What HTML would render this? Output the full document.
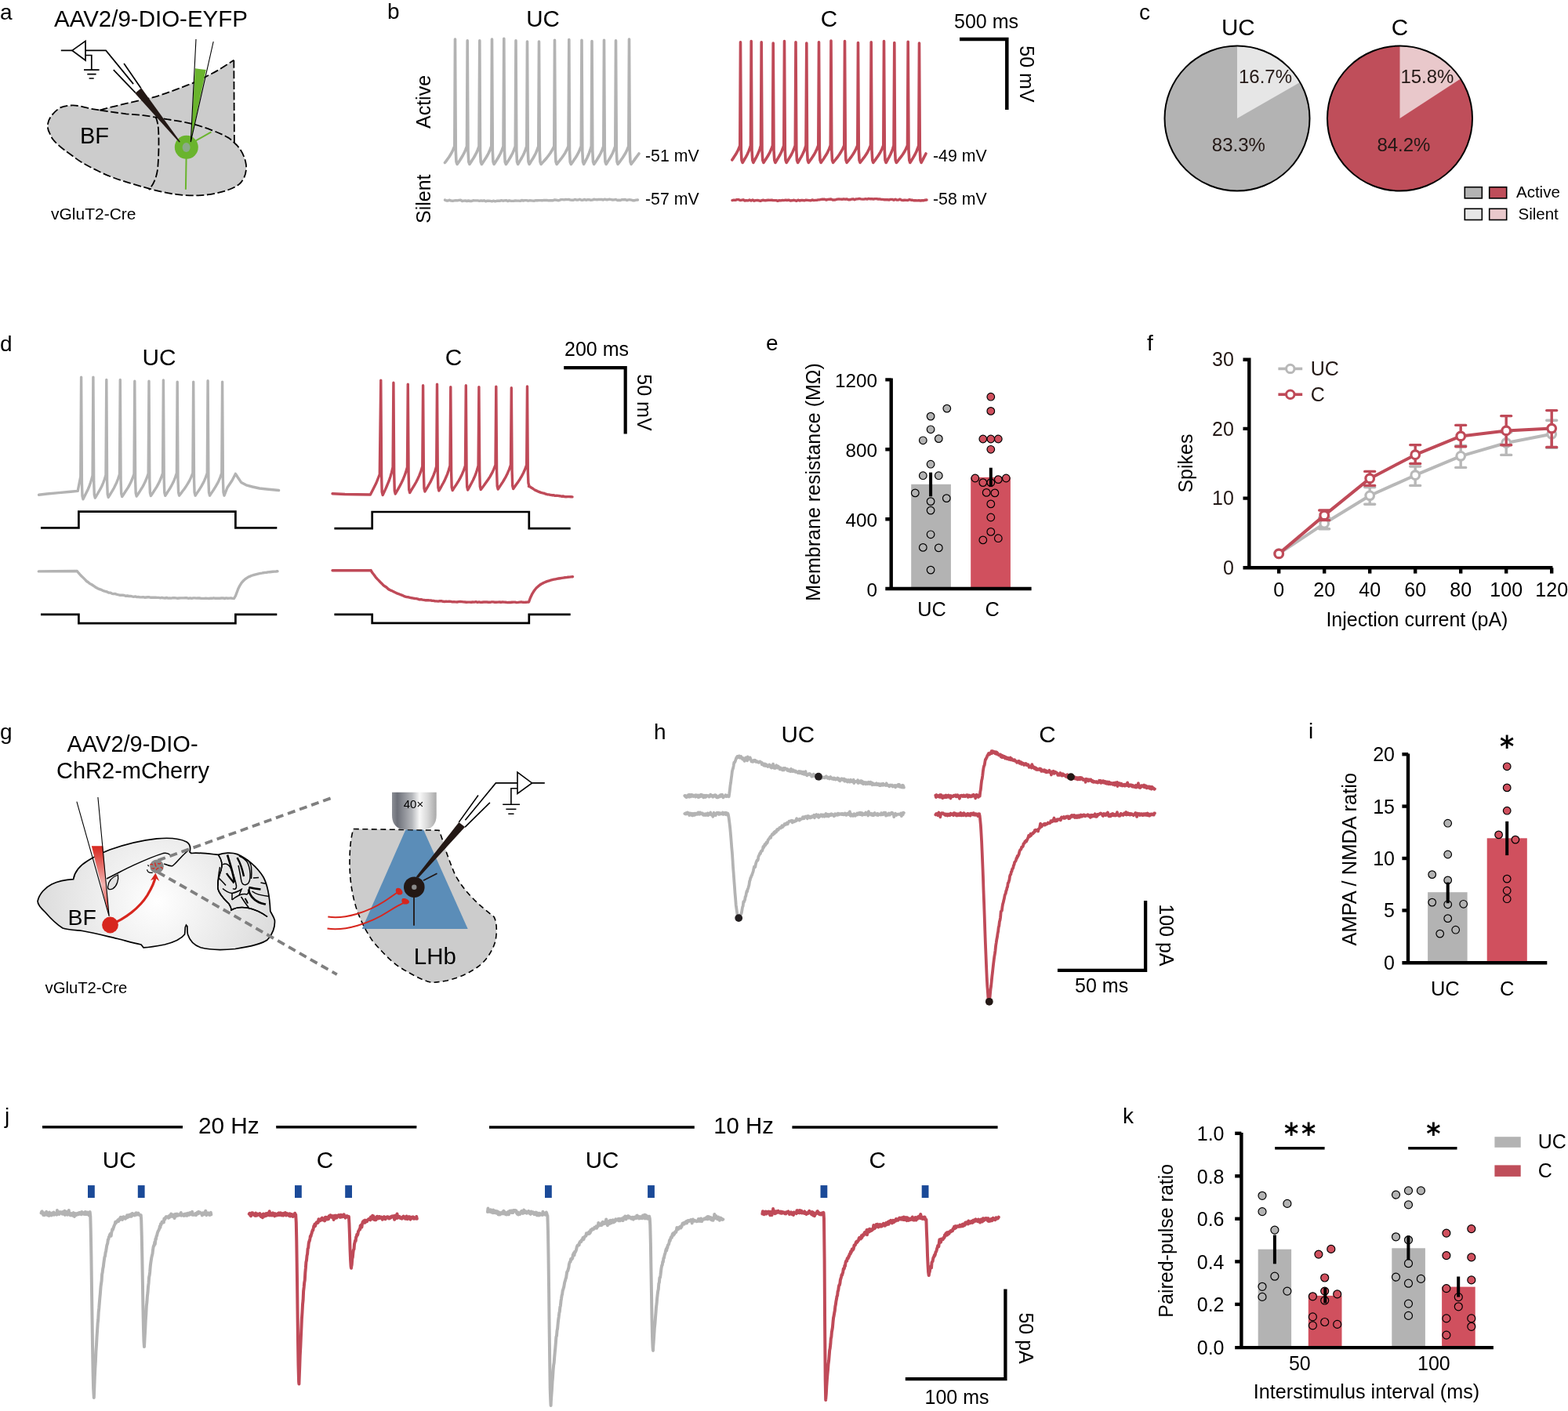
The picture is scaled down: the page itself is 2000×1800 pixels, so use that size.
<!DOCTYPE html>
<html><head><meta charset="utf-8"><style>
html,body{margin:0;padding:0;background:#fff;}
svg{display:block;}
text{font-family:"Liberation Sans", Arial, sans-serif;}
</style></head><body>
<svg xmlns="http://www.w3.org/2000/svg" width="2000" height="1800" viewBox="0 0 2000 1800">
<rect width="2000" height="1800" fill="#fff"/>
<text x="0" y="25" font-size="28">a</text>
<text x="494" y="24" font-size="28">b</text>
<text x="1453" y="25" font-size="28">c</text>
<text x="0" y="448" font-size="28">d</text>
<text x="977" y="447" font-size="28">e</text>
<text x="1463" y="447" font-size="28">f</text>
<text x="0" y="943" font-size="28">g</text>
<text x="834" y="943" font-size="28">h</text>
<text x="1669" y="942" font-size="28">i</text>
<text x="6" y="1433" font-size="28">j</text>
<text x="1432" y="1433" font-size="28">k</text>
<g id="pa">
<path d="M127.5 140.5 C150 134 175 129 194.4 124.4 C210 120 228 113 245.6 106.1 C255 102 262 98 270 94 C280 89 290 82 298.3 76.7 L298.9 182.2 C306 188 312 198 313.9 210 C315 221 311 230 304.4 235.6 C297 241 285 245 268.9 247.8 C255 250 240 250 224.4 247.8 C210 246.5 192 241 180 237.8 C160 232 140 226 125 218 C110 211 100 205 93 199.2 C85 193 78 189 73.4 184 C69 180 66 177 65 173.2 C62 168 60 164 61 158 C62 151 68 143 76.8 137.4 C82 135 88 134.4 93 134.4 C100 134.5 107 136.5 114.2 138.4 L127.5 140.5 Z" fill="#cccccc" stroke="none" stroke-width="0"/>
<path d="M127.5 140.5 C150 134 175 129 194.4 124.4 C210 120 228 113 245.6 106.1 C255 102 262 98 270 94 C280 89 290 82 298.3 76.7" fill="none" stroke="#000" stroke-width="1.8" stroke-dasharray="10 3.6"/>
<path d="M298.3 76.7 L298.9 182.2" fill="none" stroke="#000" stroke-width="1.8" stroke-dasharray="10 3.6"/>
<path d="M127.5 140.5 C140 142.5 150 144 161 145.3 C170 146 176 146.5 182.8 147.2 C195 149 205 150.5 213.3 152.2 C225 154 235 155.5 244.4 157.8 C253 160 261 162.5 268.9 165.6 C278 169 285 172 291.1 175.6 C294 177.5 296.5 179.5 298.9 182.2 C306 188 312 198 313.9 210 C315 221 311 230 304.4 235.6 C297 241 285 245 268.9 247.8 C255 250 240 250 224.4 247.8 C210 246.5 192 241 180 237.8 C160 232 140 226 125 218 C110 211 100 205 93 199.2 C85 193 78 189 73.4 184 C69 180 66 177 65 173.2 C62 168 60 164 61 158 C62 151 68 143 76.8 137.4 C82 135 88 134.4 93 134.4 C100 134.5 107 136.5 114.2 138.4 L127.5 140.5" fill="none" stroke="#000" stroke-width="1.8" stroke-dasharray="10 3.6"/>
<path d="M198.3 148.9 C201 154 201.8 160 202.2 168 C202.8 182 202.5 200 201.1 215.6 C199.5 228 195 236 190 242.2" fill="none" stroke="#000" stroke-width="1.8" stroke-dasharray="10 3.6"/>
<text x="102" y="182.8" font-size="29">BF</text>
<text x="65" y="279.5" font-size="21">vGluT2-Cre</text>
<text x="69" y="33.5" font-size="29.5">AAV2/9-DIO-EYFP</text>
<path d="M250 179.4 L269.4 168.3 M237.6 200 L236.9 241.7" fill="none" stroke="#6ab42d" stroke-width="2"/>
<circle cx="237.8" cy="187.8" r="15" fill="#6ab42d"/>
<ellipse cx="237.6" cy="188" rx="5" ry="6" fill="#8aaa88"/>
<path d="M77.8 64.4 H92.1 M109 64.4 H135.1 L170.1 107.1" fill="none" stroke="#000" stroke-width="1.7"/>
<path d="M92.1 64.4 L109 52.4 L109 77 Z" fill="none" stroke="#000" stroke-width="1.7" stroke-linejoin="miter"/>
<path d="M109 70.5 H116.8 V89.1 M107 89.1 H126.6 M111.3 94.6 H122.6 M113.6 100 H119.7" fill="none" stroke="#000" stroke-width="1.7"/>
<path d="M144.8 89.2 L172.8 118.4 M158.1 80.9 L179.8 112.6" fill="none" stroke="#000" stroke-width="1.7"/>
<path d="M172.2 118.9 L180.3 112.2 L230 181 L228.5 181.5 Z" fill="#231815" stroke="none" stroke-width="0"/>
<path d="M248.9 87.2 L262.8 89.1 L243.3 181.1 Z" fill="#6ab42d" stroke="none" stroke-width="0"/>
<path d="M250 50 L243.3 181.1 L272.2 53" fill="none" stroke="#000" stroke-width="1.1"/>
</g>
<g id="pb">
<path d="M567.5 207.5L569.3 205.1L571 202.7L572.8 200.2L574.5 197.5L576.3 194.4L578 190.8L579.8 186.5L580.5 50L581.3 192.5L582 206.5L583.1 209.5L584.9 206.9L586.7 204.2L588.4 201.5L590.2 198.5L592 195.2L593.8 191.2L595.5 186.5L596.2 51.8L597 192.5L597.8 206.5L598.9 209.5L600.6 206.9L602.3 204.2L604.1 201.5L605.8 198.5L607.6 195.2L609.3 191.2L611 186.5L611.8 51.8L612.5 192.5L613.2 206.5L614.4 209.5L616.1 206.9L617.9 204.2L619.7 201.5L621.5 198.5L623.2 195.2L625 191.2L626.8 186.5L627.5 50L628.3 192.5L629 206.5L630.1 209.5L631.8 206.9L633.5 204.2L635.2 201.5L636.9 198.5L638.6 195.2L640.3 191.2L642 186.5L642.8 49.2L643.5 192.5L644.2 206.5L645.4 209.5L647.1 206.9L648.8 204.2L650.5 201.5L652.2 198.5L653.9 195.2L655.6 191.2L657.3 186.5L658 51.8L658.8 192.5L659.5 206.5L660.6 209.5L662.2 206.9L663.8 204.2L665.4 201.5L667 198.5L668.6 195.2L670.2 191.2L671.8 186.5L672.5 53L673.3 192.5L674 206.5L675.1 209.5L676.8 206.9L678.4 204.2L680.1 201.5L681.8 198.5L683.5 195.2L685.1 191.2L686.8 186.5L687.5 53L688.3 192.5L689 206.5L690.1 209.5L692.5 206.9L694.9 204.2L697.3 201.5L699.6 198.5L702 195.2L704.4 191.2L706.8 186.5L707.5 51.2L708.3 192.5L709 206.5L710.1 209.5L712.2 206.9L714.4 204.2L716.5 201.5L718.6 198.5L720.8 195.2L722.9 191.2L725 186.5L725.8 50.5L726.5 192.5L727.2 206.5L728.4 209.5L730.2 206.9L732 204.2L733.9 201.5L735.8 198.5L737.6 195.2L739.4 191.2L741.3 186.5L742 51.2L742.8 192.5L743.5 206.5L744.6 209.5L746 206.9L747.4 204.2L748.8 201.5L750.1 198.5L751.5 195.2L752.9 191.2L754.3 186.5L755 52.5L755.8 192.5L756.5 206.5L757.6 209.5L759.3 206.9L761.1 204.2L762.8 201.5L764.6 198.5L766.3 195.2L768.1 191.2L769.8 186.5L770.5 51.2L771.3 192.5L772 206.5L773.1 209.5L774.8 206.9L776.4 204.2L778.1 201.5L779.8 198.5L781.5 195.2L783.1 191.2L784.8 186.5L785.5 51.8L786.3 192.5L787 206.5L788.1 209.5L790.1 206.9L792 204.2L794 201.5L795.9 198.5L797.9 195.2L799.8 191.2L801.8 186.5L802.5 50L803.3 192.5L804 206.5L805.1 209.5L807.1 206.8L809.1 204.1L811 201.4L813 198.7L815 196" fill="none" stroke="#b3b3b3" stroke-width="3.6" stroke-linejoin="round" stroke-linecap="round"/>
<path d="M933.8 204L935.2 201.9L936.6 199.7L938.1 197.5L939.5 195.1L940.9 192.5L942.4 189.3L943.8 185.5L944.5 53.8L945.3 191.5L946 204.5L947.1 207.5L948.6 205L950.1 202.4L951.6 199.8L953.1 197L954.6 193.8L956.1 190L957.5 185.5L958.2 52.5L959 191.5L959.8 204.5L960.9 207.5L962.2 205L963.6 202.4L965 199.8L966.4 197L967.8 193.8L969.2 190L970.5 185.5L971.2 53.8L972 191.5L972.8 204.5L973.9 207.5L975.5 205L977.2 202.4L978.9 199.8L980.5 197L982.2 193.8L983.9 190L985.5 185.5L986.2 55L987 191.5L987.8 204.5L988.9 207.5L990.4 205L992 202.4L993.5 199.8L995.1 197L996.7 193.8L998.2 190L999.8 185.5L1000.5 52.5L1001.3 191.5L1002 204.5L1003.1 207.5L1004.7 205L1006.3 202.4L1007.9 199.8L1009.5 197L1011.1 193.8L1012.7 190L1014.3 185.5L1015 53.8L1015.8 191.5L1016.5 204.5L1017.6 207.5L1019.1 205L1020.6 202.4L1022.1 199.8L1023.6 197L1025.1 193.8L1026.6 190L1028 185.5L1028.8 55L1029.5 191.5L1030.2 204.5L1031.3 207.5L1033.1 205L1034.9 202.4L1036.7 199.8L1038.5 197L1040.2 193.8L1042 190L1043.8 185.5L1044.5 53.8L1045.3 191.5L1046 204.5L1047.1 207.5L1048.8 205L1050.6 202.4L1052.3 199.8L1054.1 197L1055.8 193.8L1057.6 190L1059.3 185.5L1060 52L1060.8 191.5L1061.5 204.5L1062.6 207.5L1064.6 205L1066.7 202.4L1068.7 199.8L1070.7 197L1072.7 193.8L1074.8 190L1076.8 185.5L1077.5 52.5L1078.3 191.5L1079 204.5L1080.1 207.5L1082.1 205L1084 202.4L1086 199.8L1087.9 197L1089.9 193.8L1091.8 190L1093.8 185.5L1094.5 54.5L1095.3 191.5L1096 204.5L1097.1 207.5L1099 205L1100.9 202.4L1102.9 199.8L1104.8 197L1106.7 193.8L1108.6 190L1110.5 185.5L1111.2 53.8L1112 191.5L1112.8 204.5L1113.8 207.5L1115.7 205L1117.5 202.4L1119.4 199.8L1121.2 197L1123.1 193.8L1125 190L1126.8 185.5L1127.5 52.5L1128.3 191.5L1129 204.5L1130.1 207.5L1131.5 205L1132.9 202.4L1134.4 199.8L1135.8 197L1137.2 193.8L1138.6 190L1140 185.5L1140.8 54.5L1141.5 191.5L1142.2 204.5L1143.3 207.5L1145.4 205L1147.4 202.4L1149.4 199.8L1151.5 197L1153.5 193.8L1155.5 190L1157.5 185.5L1158.2 53.2L1159 191.5L1159.8 204.5L1160.8 207.5L1162.4 205L1164 202.4L1165.5 199.8L1167.1 197L1168.7 193.8L1170.2 190L1171.8 185.5L1172.5 55L1173.3 191.5L1174 204.5L1175.1 207.5L1176.3 205.2L1177.5 202.9L1178.6 200.6L1179.8 198.3L1181 196" fill="none" stroke="#bf4a58" stroke-width="3.6" stroke-linejoin="round" stroke-linecap="round"/>
<path d="M567.5 255.1L569.5 256L571.5 256L573.5 255.2L575.5 256.1L577.5 256.3L579.5 255.9L581.5 255.6L583.5 255.9L585.5 255.4L587.5 255.3L589.5 256.5L591.5 256.1L593.5 256L595.5 256.5L597.5 256L599.5 256.5L601.5 256.5L603.5 255.8L605.5 255.9L607.5 255.9L609.5 255.9L611.5 256.3L613.5 255.9L615.5 256.2L617.5 255.8L619.5 256.8L621.5 256.1L623.5 256.2L625.5 256.4L627.5 256.8L629.5 256.2L631.5 256.8L633.5 256.3L635.5 256.3L637.5 256.3L639.5 255.7L641.5 256.2L643.5 255.9L645.5 255.6L647.5 256.6L649.5 255.8L651.5 256.2L653.5 256.4L655.5 256.2L657.5 255.9L659.5 256.1L661.5 256.1L663.5 256.4L665.5 255.5L667.5 256L669.5 255.6L671.5 255.6L673.5 256.2L675.5 255.8L677.5 255.9L679.5 256.1L681.5 256.2L683.5 255.6L685.5 255.8L687.5 255.6L689.5 255.6L691.5 255.8L693.5 255.4L695.5 255.5L697.5 255.4L699.5 255.9L701.5 255.6L703.5 255.7L705.5 255.8L707.5 254.9L709.5 255.2L711.5 255.7L713.5 255.5L715.5 254.6L717.5 254.6L719.5 254.9L721.5 254.5L723.5 254.6L725.5 254.4L727.5 255.1L729.5 255.2L731.5 255.3L733.5 254.4L735.5 255.1L737.5 255L739.5 254.3L741.5 255.2L743.5 255.3L745.5 254.4L747.5 255.3L749.5 254.6L751.5 254.7L753.5 255.3L755.5 255.1L757.5 254.3L759.5 254.6L761.5 254.7L763.5 254.5L765.5 254.4L767.5 254.5L769.5 255L771.5 254.2L773.5 254.8L775.5 254.7L777.5 254.2L779.5 254.6L781.5 255L783.5 254.9L785.5 254.4L787.5 255.5L789.5 255.3L791.5 255.6L793.5 254.6L795.5 254.8L797.5 254.5L799.5 255.5L801.5 254.9L803.5 254.8L805.5 255.2L807.5 255.8L809.5 255.7L811.5 255.1L813.5 255" fill="none" stroke="#b3b3b3" stroke-width="3.4" stroke-linejoin="round" stroke-linecap="round"/>
<path d="M934 255.6L936 255.2L938 255.4L940 254.6L942 254.6L944 255.5L946 255.2L948 254.8L950 256L952 255.6L954 255.9L956 254.9L958 256.1L960 255L962 256.2L964 255.6L966 255.5L968 255.8L970 256.4L972 255.5L974 255.3L976 255.9L978 255.5L980 255.3L982 255.4L984 255.3L986 255.5L988 255.6L990 255.6L992 256.3L994 255.6L996 255.9L998 255.4L1000 255.6L1002 255.2L1004 255.5L1006 255.1L1008 256.1L1010 255.8L1012 255.3L1014 255.6L1016 256.3L1018 255.1L1020 256L1022 255.4L1024 255.5L1026 255.9L1028 255.2L1030 255.4L1032 255.6L1034 255.9L1036 255L1038 255.6L1040 255.4L1042 255.2L1044 254.9L1046 254.7L1048 254.3L1050 254.3L1052 254.2L1054 255.1L1056 254.4L1058 254.2L1060 254L1062 255L1064 255L1066 254.7L1068 254.1L1070 254L1072 254.1L1074 254.3L1076 253.8L1078 254.2L1080 253.9L1082 254.8L1084 254.8L1086 254.2L1088 253.8L1090 254.8L1092 253.9L1094 253.9L1096 253.4L1098 253.9L1100 254.1L1102 254.1L1104 253.7L1106 254.1L1108 253.4L1110 253.8L1112 253.6L1114 254L1116 253.6L1118 253.6L1120 254L1122 253.9L1124 254.4L1126 254.4L1128 254.7L1130 254.7L1132 254.8L1134 255L1136 254.4L1138 254.4L1140 255.3L1142 254.2L1144 255.1L1146 255L1148 254.2L1150 255.4L1152 255.5L1154 255.2L1156 255.4L1158 255.5L1160 254.7L1162 255.2L1164 255.3L1166 255.8L1168 255.8L1170 255.9L1172 255.6L1174 256L1176 255.8L1178 255.8L1180 255.2L1182 255" fill="none" stroke="#bf4a58" stroke-width="3.4" stroke-linejoin="round" stroke-linecap="round"/>
<text x="692.5" y="33.8" font-size="29.6" text-anchor="middle">UC</text>
<text x="1057.4" y="33.8" font-size="29.6" text-anchor="middle">C</text>
<text x="1217" y="36" font-size="25">500 ms</text>
<path d="M1224 50 H1284.3 V140" fill="none" stroke="#000" stroke-width="4.5" stroke-linejoin="miter"/>
<text x="1301.3" y="58.3" font-size="25" transform="rotate(90 1301.3 58.3)">50 mV</text>
<text x="549" y="164" font-size="25" transform="rotate(-90 549 164)">Active</text>
<text x="549" y="285" font-size="25" transform="rotate(-90 549 285)">Silent</text>
<text x="823" y="205.8" font-size="21.3">-51 mV</text>
<text x="823" y="261" font-size="21.3">-57 mV</text>
<text x="1190" y="205.8" font-size="21.3">-49 mV</text>
<text x="1190" y="261" font-size="21.3">-58 mV</text>
</g>
<g id="pc">
<circle cx="1578" cy="151" r="92.5" fill="#b3b3b3"/>
<path d="M1578 151 L1578 58.5 A92.5 92.5 0 0 1 1658.2 104.9 Z" fill="#e6e6e6" stroke="none" stroke-width="0"/>
<circle cx="1578" cy="151" r="92.5" fill="none" stroke="#000" stroke-width="2"/>
<circle cx="1785.5" cy="151" r="92.5" fill="#bf4e5a"/>
<path d="M1785.5 151 L1785.5 58.5 A92.5 92.5 0 0 1 1863 100.5 Z" fill="#e9c8cb" stroke="none" stroke-width="0"/>
<circle cx="1785.5" cy="151" r="92.5" fill="none" stroke="#000" stroke-width="2"/>
<text x="1579.3" y="44.6" font-size="29.6" text-anchor="middle">UC</text>
<text x="1785.5" y="44.6" font-size="29.6" text-anchor="middle">C</text>
<text x="1580" y="106.4" font-size="24" fill="#231815">16.7%</text>
<text x="1545.8" y="192.6" font-size="24" fill="#231815">83.3%</text>
<text x="1786.4" y="106.4" font-size="24" fill="#231815">15.8%</text>
<text x="1756.4" y="192.6" font-size="24" fill="#231815">84.2%</text>
<rect x="1868.3" y="238.7" width="22" height="14.2" fill="#b3b3b3" stroke="#000" stroke-width="1.6"/>
<rect x="1899.7" y="238.7" width="22" height="14.2" fill="#bf4e5a" stroke="#000" stroke-width="1.6"/>
<rect x="1868.3" y="266.3" width="22" height="14.2" fill="#e6e6e6" stroke="#000" stroke-width="1.6"/>
<rect x="1899.7" y="266.3" width="22" height="14.2" fill="#e9c8cb" stroke="#000" stroke-width="1.6"/>
<text x="1934" y="252" font-size="20.5">Active</text>
<text x="1936.5" y="279.5" font-size="20.5">Silent</text>
</g>
<g id="pd">
<path d="M49.6 631.2L60 630L75 628.6L90 627.3L99.2 626.4L101.2 616L102.8 608L103.6 481.1L104.4 616L105 632.8L106 636.8L107.5 633.8L109 630.8L110.5 627.8L112.1 624.5L113.6 621L115.1 616.9L116.6 612.1L118.1 606.4L118.9 481.1L119.7 614.4L120.3 631.2L121.3 635.2L123 632.4L124.7 629.5L126.4 626.5L128.2 623.4L129.9 620L131.6 616.1L133.3 611.5L135 606L135.8 484.4L136.6 614L137.2 630.4L138.2 634.4L140 631.5L141.8 628.6L143.6 625.7L145.4 622.5L147.1 619.1L148.9 615.2L150.7 610.5L152.5 605L153.3 484.4L154.1 613L154.7 629.5L155.7 633.5L157.6 630.7L159.5 627.8L161.4 624.9L163.4 621.8L165.3 618.4L167.2 614.5L169.1 610L171 604.5L171.8 486.2L172.6 612.5L173.2 629L174.2 633L176.1 630.2L178 627.3L179.8 624.4L181.7 621.3L183.6 617.9L185.4 614L187.3 609.5L189.2 604L190 486.2L190.8 612L191.4 628.5L192.4 632.5L194.3 629.7L196.2 626.8L198.1 623.9L200 620.8L201.9 617.4L203.8 613.5L205.7 609L207.6 603.5L208.4 484.9L209.2 611.5L209.8 628.3L210.8 632.3L212.6 629.5L214.4 626.7L216.3 623.8L218.1 620.7L219.9 617.3L221.8 613.4L223.6 608.9L225.4 603.5L226.2 487.1L227 611.5L227.6 628.2L228.6 632.2L230.8 629.4L232.9 626.6L235.1 623.7L237.2 620.6L239.4 617.2L241.6 613.4L243.7 608.9L245.9 603.5L246.7 487.1L247.5 611.5L248.1 628.2L249.1 632.2L251 629.4L252.9 626.6L254.8 623.7L256.7 620.6L258.6 617.2L260.5 613.4L262.4 608.9L264.3 603.5L265.1 485.8L265.9 611.5L266.5 628.2L267.5 632.2L269.4 629.4L271.3 626.6L273.2 623.7L275.1 620.6L277.1 617.2L279 613.4L280.9 608.9L282.8 603.5L283.6 487.1L284.4 611.5L285 628.2L286 632.2L290 622L296 613L300.4 604.4L303 608.5L307.8 615.6L314 618.8L322 621L331 623L340 624L355.6 625.5" fill="none" stroke="#b3b3b3" stroke-width="3.4" stroke-linejoin="round" stroke-linecap="round"/>
<path d="M424 629.8L440 630.5L455 630.8L472.4 631L476 624L480 616L484.3 605L485.8 485.1L486.6 606L487.2 627.6L488.2 631.6L489.8 628.1L491.4 624.6L493 621L494.6 617.2L496.3 613L497.9 608.3L499.5 602.7L501.1 596L501.9 488.3L502.7 604L503.3 626L504.3 630L506.2 626.7L508.1 623.3L510 619.9L511.9 616.3L513.8 612.3L515.7 607.7L517.6 602.4L519.5 596L520.3 490.1L521.1 604L521.7 624.5L522.7 628.5L524.7 625.2L526.7 621.9L528.7 618.6L530.8 615L532.8 611L534.8 606.6L536.8 601.3L538.8 595L539.6 491.8L540.4 603L541 623L542 627L543.8 623.9L545.7 620.7L547.5 617.5L549.4 614.1L551.2 610.3L553 606.1L554.9 601L556.7 595L557.5 490.1L558.3 603L558.9 622L559.9 626L561.7 622.9L563.4 619.7L565.2 616.5L567 613.1L568.7 609.3L570.5 605.1L572.2 600L574 594L574.8 493.6L575.6 602L576.2 621.5L577.2 625.5L579.2 622.4L581.3 619.3L583.3 616.1L585.3 612.8L587.4 609.1L589.4 604.9L591.5 599.9L593.5 594L594.3 491.8L595.1 602L595.7 621L596.7 625L598.4 622L600 618.9L601.7 615.8L603.4 612.5L605.1 608.8L606.8 604.7L608.4 599.8L610.1 594L610.9 493.6L611.7 602L612.3 620.5L613.3 624.5L615.6 621.4L618 618.3L620.3 615.1L622.6 611.8L625 608.1L627.3 603.9L629.7 598.9L632 593L632.8 493.1L633.6 601L634.2 620L635.2 624L637.2 621L639.3 617.9L641.3 614.8L643.3 611.5L645.4 607.8L647.4 603.7L649.5 598.8L651.5 593L652.3 494.7L653.1 601L653.7 619.5L654.7 623.5L656.8 620.5L658.9 617.5L661.1 614.4L663.2 611.2L665.3 607.6L667.5 603.5L669.6 598.8L671.7 593L672.5 492.9L673.3 601L673.9 616L674.9 620L674.5 620.5L676 620.8L678 622.3L680 623.5L682 625L684 625.9L686 626.8L688 627.6L690 628.4L692 628.9L694 629.2L696 630.2L698 630.7L700 630.9L702 631.3L704 631.7L706 631.7L708 632.4L710 632.3L712 632.4L714 632.7L716 633.2L718 633L720 633.5L722 633.7L724 633.6L726 633.6L728 633.7L730 633.9" fill="none" stroke="#bf4a58" stroke-width="3.4" stroke-linejoin="round" stroke-linecap="round"/>
<path d="M49.3 728.9L70 728.8L97.8 728.5L98.5 728.7L100.5 731.2L102.5 733.5L104.5 735.4L106.5 737.4L108.5 739.4L110.5 741.5L112.5 742.8L114.5 744.5L116.5 745.5L118.5 746.8L120.5 748.1L122.5 749.5L124.5 750.6L126.5 751.5L128.5 752.1L130.5 753.1L132.5 753.8L134.5 754.5L136.5 754.9L138.5 756L140.5 756.1L142.5 757.1L144.5 757.6L146.5 757.4L148.5 758.1L150.5 758.7L152.5 759.2L154.5 759.1L156.5 759.3L158.5 759.5L160.5 760.3L162.5 760L164.5 760.5L166.5 760.4L168.5 760.9L170.5 761.3L172.5 760.9L174.5 761.6L176.5 761.5L178.5 761.9L180.5 761.9L182.5 761.6L184.5 762.2L186.5 762L188.5 761.8L190.5 761.8L192.5 762.3L194.5 762.3L196.5 762.3L198.5 762.2L200.5 762.4L202.5 762.4L204.5 762.8L206.5 762.3L208.5 762.9L210.5 763L212.5 762.5L214.5 763.1L216.5 763L218.5 763.1L220.5 762.7L222.5 762.8L224.5 762.9L226.5 763.3L228.5 763L230.5 762.9L232.5 762.9L234.5 762.9L236.5 762.7L238.5 762.8L240.5 763.3L242.5 762.9L244.5 763.4L246.5 762.9L248.5 762.9L250.5 763.1L252.5 762.9L254.5 763L256.5 763.4L258.5 763.4L260.5 763.4L262.5 763.2L264.5 763.4L266.5 763.5L268.5 763.2L270.5 763.3L272.5 762.8L274.5 763.3L276.5 763.1L278.5 763.3L280.5 763.3L282.5 763L284.5 762.9L286.5 763.5L288.5 762.9L290.5 763.2L292.5 763.1L294.5 763L296.5 763.4L298.5 763.5L300.5 760L302 756L304 750.7L306 746.8L308 743.7L310 741.3L312 739.4L314 737.9L316 736.6L318 735.6L320 734.7L322 734L324 733.3L326 732.8L328 732.3L330 731.8L332 731.4L334 731.1L336 730.7L338 730.4L340 730.2L342 729.9L344 729.7L346 729.5L348 729.3L350 729.1L352 729L354 728.8" fill="none" stroke="#b3b3b3" stroke-width="3.4" stroke-linejoin="round" stroke-linecap="round"/>
<path d="M424 727.7L450 727.7L472.4 727.7L473 727.5L475 730.8L477 733.3L479 736.1L481 738.4L483 740.4L485 742.5L487 744.4L489 746.6L491 748L493 749.3L495 751.2L497 752.5L499 753.3L501 754.2L503 755.3L505 756.2L507 757.2L509 757.8L511 758.7L513 759.4L515 760.3L517 761.1L519 761.6L521 761.8L523 762.3L525 762.8L527 763.1L529 763.5L531 763.6L533 764.1L535 764.9L537 764.6L539 765.1L541 765.4L543 765.8L545 765.6L547 765.8L549 765.9L551 766.2L553 766.4L555 766.9L557 766.9L559 767.1L561 766.6L563 766.7L565 767.3L567 767.5L569 767.3L571 767.4L573 767.1L575 767.4L577 767.9L579 767.8L581 767.9L583 768L585 767.6L587 767.5L589 767.6L591 767.9L593 768L595 768.2L597 768.1L599 768.1L601 768.2L603 768L605 768.1L607 767.7L609 768.3L611 767.9L613 768.4L615 768.2L617 768L619 767.9L621 768L623 768.3L625 768.3L627 767.9L629 767.9L631 768.2L633 768.3L635 768.1L637 768L639 768.3L641 767.9L643 768.1L645 768.2L647 768.6L649 768.4L651 768.5L653 768.2L655 768.1L657 768.1L659 768.6L661 768.4L663 768.1L665 767.9L667 768.3L669 768.4L671 768.2L673 768.1L674.5 768L676.5 762.5L678.5 758.2L680.5 754.8L682.5 752L684.5 749.7L686.5 747.9L688.5 746.3L690.5 745L692.5 743.9L694.5 743L696.5 742.2L698.5 741.4L700.5 740.8L702.5 740.2L704.5 739.7L706.5 739.2L708.5 738.8L710.5 738.4L712.5 738L714.5 737.7L716.5 737.4L718.5 737.1L720.5 736.8L722.5 736.6L724.5 736.3L726.5 736.1L728.5 735.9L730.5 735.7" fill="none" stroke="#bf4a58" stroke-width="3.4" stroke-linejoin="round" stroke-linecap="round"/>
<path d="M52 673.3 H100.4 V652.7 H300.4 V673.3 H353.3" fill="none" stroke="#000" stroke-width="2.7" stroke-linejoin="miter"/>
<path d="M52 783.8 H100.4 V795.1 H300.4 V783.8 H353.3" fill="none" stroke="#000" stroke-width="2.7" stroke-linejoin="miter"/>
<path d="M426.4 674.1 H474.7 V653 H674.8 V674.1 H727.7" fill="none" stroke="#000" stroke-width="2.7" stroke-linejoin="miter"/>
<path d="M426.4 783.8 H474.7 V794.9 H674.8 V783.8 H727.7" fill="none" stroke="#000" stroke-width="2.7" stroke-linejoin="miter"/>
<text x="203" y="465.8" font-size="29.8" text-anchor="middle">UC</text>
<text x="578.5" y="465.8" font-size="29.8" text-anchor="middle">C</text>
<text x="720" y="454" font-size="25">200 ms</text>
<path d="M719.2 469.2 H797.7 V553.6" fill="none" stroke="#000" stroke-width="4.2" stroke-linejoin="miter"/>
<text x="813.3" y="477.3" font-size="25" transform="rotate(90 813.3 477.3)">50 mV</text>
</g>
<g id="pe">
<rect x="1162.2" y="617.8" width="50.7" height="132.9" fill="#b3b3b3"/>
<rect x="1238.2" y="608.9" width="50.7" height="141.8" fill="#d0505e"/>
<circle cx="1207.8" cy="521.1" r="4.8" fill="#b3b3b3" stroke="#000" stroke-width="1.2"/>
<circle cx="1187.1" cy="531.1" r="4.8" fill="#b3b3b3" stroke="#000" stroke-width="1.2"/>
<circle cx="1187.1" cy="547.8" r="4.8" fill="#b3b3b3" stroke="#000" stroke-width="1.2"/>
<circle cx="1177.3" cy="561.8" r="4.8" fill="#b3b3b3" stroke="#000" stroke-width="1.2"/>
<circle cx="1197.3" cy="559.6" r="4.8" fill="#b3b3b3" stroke="#000" stroke-width="1.2"/>
<circle cx="1187.1" cy="592.2" r="4.8" fill="#b3b3b3" stroke="#000" stroke-width="1.2"/>
<circle cx="1177.3" cy="606.7" r="4.8" fill="#b3b3b3" stroke="#000" stroke-width="1.2"/>
<circle cx="1197.3" cy="606.7" r="4.8" fill="#b3b3b3" stroke="#000" stroke-width="1.2"/>
<circle cx="1167.3" cy="628.9" r="4.8" fill="#b3b3b3" stroke="#000" stroke-width="1.2"/>
<circle cx="1207.3" cy="635.6" r="4.8" fill="#b3b3b3" stroke="#000" stroke-width="1.2"/>
<circle cx="1187.1" cy="639.6" r="4.8" fill="#b3b3b3" stroke="#000" stroke-width="1.2"/>
<circle cx="1187.1" cy="651.1" r="4.8" fill="#b3b3b3" stroke="#000" stroke-width="1.2"/>
<circle cx="1187.1" cy="681.8" r="4.8" fill="#b3b3b3" stroke="#000" stroke-width="1.2"/>
<circle cx="1177.3" cy="698.4" r="4.8" fill="#b3b3b3" stroke="#000" stroke-width="1.2"/>
<circle cx="1197.3" cy="698.9" r="4.8" fill="#b3b3b3" stroke="#000" stroke-width="1.2"/>
<circle cx="1187.1" cy="727.1" r="4.8" fill="#b3b3b3" stroke="#000" stroke-width="1.2"/>
<circle cx="1263.8" cy="506.2" r="4.8" fill="#d0505e" stroke="#000" stroke-width="1.2"/>
<circle cx="1263.8" cy="524.4" r="4.8" fill="#d0505e" stroke="#000" stroke-width="1.2"/>
<circle cx="1253.8" cy="560" r="4.8" fill="#d0505e" stroke="#000" stroke-width="1.2"/>
<circle cx="1263.8" cy="560" r="4.8" fill="#d0505e" stroke="#000" stroke-width="1.2"/>
<circle cx="1273.3" cy="560" r="4.8" fill="#d0505e" stroke="#000" stroke-width="1.2"/>
<circle cx="1263.8" cy="573.3" r="4.8" fill="#d0505e" stroke="#000" stroke-width="1.2"/>
<circle cx="1243.8" cy="610" r="4.8" fill="#d0505e" stroke="#000" stroke-width="1.2"/>
<circle cx="1253.8" cy="615.6" r="4.8" fill="#d0505e" stroke="#000" stroke-width="1.2"/>
<circle cx="1263.8" cy="615.6" r="4.8" fill="#d0505e" stroke="#000" stroke-width="1.2"/>
<circle cx="1273.3" cy="611.6" r="4.8" fill="#d0505e" stroke="#000" stroke-width="1.2"/>
<circle cx="1283.3" cy="610" r="4.8" fill="#d0505e" stroke="#000" stroke-width="1.2"/>
<circle cx="1258.2" cy="628.4" r="4.8" fill="#d0505e" stroke="#000" stroke-width="1.2"/>
<circle cx="1268.9" cy="628.9" r="4.8" fill="#d0505e" stroke="#000" stroke-width="1.2"/>
<circle cx="1263.8" cy="642.9" r="4.8" fill="#d0505e" stroke="#000" stroke-width="1.2"/>
<circle cx="1263.8" cy="660" r="4.8" fill="#d0505e" stroke="#000" stroke-width="1.2"/>
<circle cx="1263.8" cy="678.4" r="4.8" fill="#d0505e" stroke="#000" stroke-width="1.2"/>
<circle cx="1253.8" cy="688.9" r="4.8" fill="#d0505e" stroke="#000" stroke-width="1.2"/>
<circle cx="1273.3" cy="686.7" r="4.8" fill="#d0505e" stroke="#000" stroke-width="1.2"/>
<line x1="1187.1" y1="602.7" x2="1187.1" y2="633.3" stroke="#000" stroke-width="4"/>
<line x1="1263.8" y1="596.7" x2="1263.8" y2="621.1" stroke="#000" stroke-width="4"/>
<path d="M1136.7 482.5 V753 M1129.3 751 H1315.6 M1129.3 484.4 H1136.7 M1129.3 573.3 H1136.7 M1129.3 662.2 H1136.7" fill="none" stroke="#000" stroke-width="4.4"/>
<text x="1119" y="494.4" font-size="24.3" text-anchor="end">1200</text>
<text x="1119" y="583.3" font-size="24.3" text-anchor="end">800</text>
<text x="1119" y="672.2" font-size="24.3" text-anchor="end">400</text>
<text x="1119" y="760.7" font-size="24.3" text-anchor="end">0</text>
<text x="1046.5" y="766.7" font-size="25" transform="rotate(-90 1046.5 766.7)">Membrane resistance (MΩ)</text>
<text x="1188.6" y="786.2" font-size="25.3" text-anchor="middle">UC</text>
<text x="1265.6" y="786.2" font-size="25.3" text-anchor="middle">C</text>
</g>
<g id="pf">
<path d="M1593.3 456.5 V726.4 M1585.5 724.3 H1980.4 M1585.5 458.7 H1593.3 M1585.5 546.9 H1593.3 M1585.5 635.6 H1593.3" fill="none" stroke="#000" stroke-width="4.4"/>
<line x1="1631.2" y1="724.3" x2="1631.2" y2="731.6" stroke="#000" stroke-width="4.4"/>
<text x="1631.2" y="761.2" font-size="25" text-anchor="middle">0</text>
<line x1="1689.2" y1="724.3" x2="1689.2" y2="731.6" stroke="#000" stroke-width="4.4"/>
<text x="1689.2" y="761.2" font-size="25" text-anchor="middle">20</text>
<line x1="1747.2" y1="724.3" x2="1747.2" y2="731.6" stroke="#000" stroke-width="4.4"/>
<text x="1747.2" y="761.2" font-size="25" text-anchor="middle">40</text>
<line x1="1805.2" y1="724.3" x2="1805.2" y2="731.6" stroke="#000" stroke-width="4.4"/>
<text x="1805.2" y="761.2" font-size="25" text-anchor="middle">60</text>
<line x1="1863.2" y1="724.3" x2="1863.2" y2="731.6" stroke="#000" stroke-width="4.4"/>
<text x="1863.2" y="761.2" font-size="25" text-anchor="middle">80</text>
<line x1="1921.2" y1="724.3" x2="1921.2" y2="731.6" stroke="#000" stroke-width="4.4"/>
<text x="1921.2" y="761.2" font-size="25" text-anchor="middle">100</text>
<line x1="1979.2" y1="724.3" x2="1979.2" y2="731.6" stroke="#000" stroke-width="4.4"/>
<text x="1979.2" y="761.2" font-size="25" text-anchor="middle">120</text>
<text x="1573.8" y="733.3" font-size="25" text-anchor="end" fill="#231815">0</text>
<text x="1573.8" y="644.4" font-size="25" text-anchor="end" fill="#231815">10</text>
<text x="1573.8" y="555.5" font-size="25" text-anchor="end" fill="#231815">20</text>
<text x="1573.8" y="466.6" font-size="25" text-anchor="end" fill="#231815">30</text>
<text x="1691.4" y="799.3" font-size="25">Injection current (pA)</text>
<text x="1521.5" y="628.6" font-size="25" transform="rotate(-90 1521.5 628.6)">Spikes</text>
<path d="M1689.2 660.2 V674.8 M1682.7 660.2 H1695.7 M1682.7 674.8 H1695.7" fill="none" stroke="#b8b8b8" stroke-width="3.4" stroke-linecap="round"/>
<path d="M1747.2 621.6 V643.2 M1740.7 621.6 H1753.7 M1740.7 643.2 H1753.7" fill="none" stroke="#b8b8b8" stroke-width="3.4" stroke-linecap="round"/>
<path d="M1805.2 595 V619.4 M1798.7 595 H1811.7 M1798.7 619.4 H1811.7" fill="none" stroke="#b8b8b8" stroke-width="3.4" stroke-linecap="round"/>
<path d="M1863.2 568.4 V596.4 M1856.7 568.4 H1869.7 M1856.7 596.4 H1869.7" fill="none" stroke="#b8b8b8" stroke-width="3.4" stroke-linecap="round"/>
<path d="M1921.2 551.6 V580.4 M1914.7 551.6 H1927.7 M1914.7 580.4 H1927.7" fill="none" stroke="#b8b8b8" stroke-width="3.4" stroke-linecap="round"/>
<path d="M1979.2 536.2 V571.4 M1972.7 536.2 H1985.7 M1972.7 571.4 H1985.7" fill="none" stroke="#b8b8b8" stroke-width="3.4" stroke-linecap="round"/>
<path d="M1631.2 706.4L1689.2 667.8L1747.2 632.3L1805.2 606.2L1863.2 581.8L1921.2 565L1979.2 553.8" fill="none" stroke="#b8b8b8" stroke-width="4" stroke-linejoin="round" stroke-linecap="round"/>
<circle cx="1631.2" cy="706.4" r="5.3" fill="#fff" stroke="#b8b8b8" stroke-width="3.2"/>
<circle cx="1689.2" cy="667.8" r="5.3" fill="#fff" stroke="#b8b8b8" stroke-width="3.2"/>
<circle cx="1747.2" cy="632.3" r="5.3" fill="#fff" stroke="#b8b8b8" stroke-width="3.2"/>
<circle cx="1805.2" cy="606.2" r="5.3" fill="#fff" stroke="#b8b8b8" stroke-width="3.2"/>
<circle cx="1863.2" cy="581.8" r="5.3" fill="#fff" stroke="#b8b8b8" stroke-width="3.2"/>
<circle cx="1921.2" cy="565" r="5.3" fill="#fff" stroke="#b8b8b8" stroke-width="3.2"/>
<circle cx="1979.2" cy="553.8" r="5.3" fill="#fff" stroke="#b8b8b8" stroke-width="3.2"/>
<path d="M1689.2 651 V663.6 M1682.7 651 H1695.7 M1682.7 663.6 H1695.7" fill="none" stroke="#bf4a58" stroke-width="3.4" stroke-linecap="round"/>
<path d="M1747.2 601.4 V619.4 M1740.7 601.4 H1753.7 M1740.7 619.4 H1753.7" fill="none" stroke="#bf4a58" stroke-width="3.4" stroke-linecap="round"/>
<path d="M1805.2 567.6 V591.4 M1798.7 567.6 H1811.7 M1798.7 591.4 H1811.7" fill="none" stroke="#bf4a58" stroke-width="3.4" stroke-linecap="round"/>
<path d="M1863.2 542.4 V569.8 M1856.7 542.4 H1869.7 M1856.7 569.8 H1869.7" fill="none" stroke="#bf4a58" stroke-width="3.4" stroke-linecap="round"/>
<path d="M1921.2 530.6 V567.8 M1914.7 530.6 H1927.7 M1914.7 567.8 H1927.7" fill="none" stroke="#bf4a58" stroke-width="3.4" stroke-linecap="round"/>
<path d="M1979.2 523.6 V570.4 M1972.7 523.6 H1985.7 M1972.7 570.4 H1985.7" fill="none" stroke="#bf4a58" stroke-width="3.4" stroke-linecap="round"/>
<path d="M1631.2 706.4L1689.2 657.4L1747.2 610.4L1805.2 580.2L1863.2 556.4L1921.2 549.4L1979.2 546.6" fill="none" stroke="#bf4a58" stroke-width="4" stroke-linejoin="round" stroke-linecap="round"/>
<circle cx="1631.2" cy="706.4" r="5.3" fill="#fff" stroke="#bf4a58" stroke-width="3.2"/>
<circle cx="1689.2" cy="657.4" r="5.3" fill="#fff" stroke="#bf4a58" stroke-width="3.2"/>
<circle cx="1747.2" cy="610.4" r="5.3" fill="#fff" stroke="#bf4a58" stroke-width="3.2"/>
<circle cx="1805.2" cy="580.2" r="5.3" fill="#fff" stroke="#bf4a58" stroke-width="3.2"/>
<circle cx="1863.2" cy="556.4" r="5.3" fill="#fff" stroke="#bf4a58" stroke-width="3.2"/>
<circle cx="1921.2" cy="549.4" r="5.3" fill="#fff" stroke="#bf4a58" stroke-width="3.2"/>
<circle cx="1979.2" cy="546.6" r="5.3" fill="#fff" stroke="#bf4a58" stroke-width="3.2"/>
<line x1="1630.4" y1="470.4" x2="1661.2" y2="470.4" stroke="#b8b8b8" stroke-width="3.6"/>
<circle cx="1645.8" cy="470.4" r="5.2" fill="#fff" stroke="#b8b8b8" stroke-width="3"/>
<line x1="1630.4" y1="503.2" x2="1661.2" y2="503.2" stroke="#bf4a58" stroke-width="3.6"/>
<circle cx="1645.8" cy="503.2" r="5.2" fill="#fff" stroke="#bf4a58" stroke-width="3"/>
<text x="1671.8" y="478.5" font-size="25" fill="#231815">UC</text>
<text x="1671.8" y="511.8" font-size="25" fill="#231815">C</text>
</g>
<defs><radialGradient id="brainG" cx="200" cy="1150" r="170" gradientUnits="userSpaceOnUse"><stop offset="0" stop-color="#ffffff"/><stop offset="1" stop-color="#d8d8d8"/></radialGradient><linearGradient id="pipR" x1="0" y1="1079" x2="0" y2="1169" gradientUnits="userSpaceOnUse"><stop offset="0" stop-color="#d7261e"/><stop offset="0.55" stop-color="#f2b3b0"/><stop offset="1" stop-color="#d7261e"/></linearGradient><linearGradient id="objG" x1="500" y1="0" x2="556.7" y2="0" gradientUnits="userSpaceOnUse"><stop offset="0" stop-color="#8c8f96"/><stop offset="0.12" stop-color="#6d7079"/><stop offset="0.45" stop-color="#b5b7bb"/><stop offset="0.62" stop-color="#f8f8f8"/><stop offset="0.8" stop-color="#d8d8d8"/><stop offset="1" stop-color="#a8a8a8"/></linearGradient></defs>
<g id="pg">
<text x="85.5" y="959" font-size="29">AAV2/9-DIO-</text>
<text x="72" y="992.7" font-size="29">ChR2-mCherry</text>
<text x="57.5" y="1266.8" font-size="20.3">vGluT2-Cre</text>
<path d="M48 1149.6 C50 1140 58 1132 66 1128 C74 1124 84 1122 93.6 1121.6 C95 1113 102 1104 112 1098 C120 1093 130 1088 140 1084 C160 1077 180 1072 200 1069.9 C215 1068.5 230 1070 238 1074 C243 1077 243 1083 242 1087 L244 1088.5 C250 1087 265 1089 278.4 1090.4 C285 1088 295 1087 302.4 1089.6 C315 1095 328 1106 336 1119 C342 1130 344 1145 344.8 1162.4 C346 1165 349 1169 350.4 1174 C351 1182 348 1192 341 1199 C333 1205 316 1208 300 1210.5 C285 1212 268 1212 256 1208.8 C248 1206 242 1200 239.5 1192 C238.5 1188 239 1184 238.8 1181.5 L237.5 1180 L236.3 1183 C236 1187 236 1190 235.5 1192 C231 1198 222 1202 210 1205 C200 1207 190 1208.5 183 1208.8 L180 1205 C170 1203 160 1200 150 1197.5 C135 1194 120 1190 105 1187.5 C95 1186.5 85 1186 80 1184 C72 1179 64 1171 58 1164 C52 1158 48 1154 48 1149.6 Z" fill="url(#brainG)" stroke="#000" stroke-width="1.7"/>
<path d="M278.4 1090.4 C283 1097 284 1104 282 1110 C279 1118 277 1126 278 1134 C280 1142 287 1148 292 1153 C294 1156 295 1159 295 1161 C300 1158 308 1157 315 1158 C325 1160 335 1165 341 1169.5" fill="#e6e6e6" stroke="#000" stroke-width="1.5"/>
<path d="M278.4 1090.4 C283 1097 284 1104 282 1110 C279 1118 277 1126 278 1134 C280 1142 287 1148 292 1153 C294 1156 295 1159 295 1161 C300 1158 308 1157 315 1158 C325 1160 335 1165 341 1169.5" fill="none" stroke="#000" stroke-width="1.5"/>
<path d="M290 1090.5 C293 1100 297 1112 299 1125" fill="none" stroke="#000" stroke-width="2.6"/>
<path d="M289 1114 C292 1119 296 1123 298.5 1126.5" fill="none" stroke="#000" stroke-width="2.4"/>
<path d="M284 1103 C287 1101 291 1102 293.5 1106 C297 1113 300 1122 301.5 1130 C302 1134.5 299 1135 297 1133.5" fill="none" stroke="#000" stroke-width="1.5"/>
<path d="M302.5 1094 C306 1100 309 1108 311 1118" fill="none" stroke="#000" stroke-width="2.4"/>
<path d="M305 1092 C310 1094 314 1097 316 1101 C318.5 1107 319.5 1114 319 1120 C318.5 1125 317 1128 313 1128.8 C310 1129 308 1126 307.5 1122 C306.5 1116 305.5 1110 304 1104" fill="none" stroke="#000" stroke-width="1.5"/>
<path d="M315 1096.5 C318 1099 320 1102 320.5 1106 C321 1112 321 1117 320.5 1121" fill="none" stroke="#000" stroke-width="1.5"/>
<path d="M323 1120 L330 1119.5" fill="none" stroke="#000" stroke-width="1.6"/>
<path d="M332.5 1126 L340 1127.5" fill="none" stroke="#000" stroke-width="1.5"/>
<path d="M317.5 1132 C322 1133 328 1134 332.5 1134.5" fill="none" stroke="#000" stroke-width="2.6"/>
<path d="M321.5 1137 C326 1140.5 334 1142.5 343 1143.5" fill="none" stroke="#000" stroke-width="1.5"/>
<path d="M317 1134.5 C318 1141 322 1147 330 1151 C334 1153 337 1153 339 1153.5" fill="none" stroke="#000" stroke-width="2.6"/>
<path d="M307.5 1144 C311 1149 314 1154 317.5 1158" fill="none" stroke="#000" stroke-width="1.5"/>
<path d="M312.5 1146 C314 1148 315 1150 316 1152.5" fill="none" stroke="#000" stroke-width="2"/>
<path d="M284 1133.5 C288 1137 292 1139 296 1139.5 C300 1139 304 1137 308 1134.5 L305 1142 C301 1144 298 1146 296 1148" fill="none" stroke="#000" stroke-width="1.5"/>
<path d="M296 1139.5 L296 1148" fill="none" stroke="#000" stroke-width="1.5"/>
<path d="M279 1120 C283 1124 286 1127 288 1129.5" fill="none" stroke="#000" stroke-width="1.5"/>
<path d="M305 1142 C308 1141 312 1140 315 1141 C318 1138 318 1134 318 1132" fill="none" stroke="#000" stroke-width="1.5"/>
<path d="M280.5 1106 C279 1114 277.5 1122 278 1130" fill="none" stroke="#000" stroke-width="1.4"/>
<path d="M136 1121 C150 1114 162 1107.5 170 1103.9 C185 1097 200 1091 208 1088.6 C212 1087.6 215 1088.8 217.3 1090.8" fill="none" stroke="#000" stroke-width="1.5"/>
<path d="M209.2 1102 C213 1103 217 1105.5 220 1104.6 C224 1102 230 1094 235 1089.5 C237.5 1087 239.5 1085.5 240 1085" fill="none" stroke="#000" stroke-width="1.5"/>
<path d="M150.4 1116 C151.5 1122 149.5 1130 144 1133.6 C140 1135.5 137 1134.5 137.6 1131 C138 1126 140 1120 150.4 1116 Z" fill="#e2e2e2" stroke="#000" stroke-width="1.3"/>
<path d="M201.4 1097.6 L425.3 1017 M201.4 1112.6 L429.8 1243.2" fill="none" stroke="#7f7f7f" stroke-width="3.8" stroke-dasharray="10 6"/>
<circle cx="200" cy="1105.2" r="8.8" fill="#888888"/>
<path d="M191.5 1103.5 C192.5 1102 194 1102 194.8 1103.5 M197.5 1100.5 L198.5 1104.5 L199.3 1105.5 M201.5 1101 C202 1102.5 203.5 1102.8 205 1100.8 M193.5 1107 C194.5 1108.5 196 1108.5 197 1107.2 M199.2 1110 L200.5 1108 L202.5 1107.3 M204.5 1106.5 C206 1106 207 1107 207.5 1108.5" fill="none" stroke="#d7261e" stroke-width="1.3"/>
<path d="M188.5 1103.4 L189.8 1105.2 M187.6 1109.3 C187.8 1112 189.5 1113.8 194.8 1113.3" fill="none" stroke="#000" stroke-width="1.3"/>
<path d="M116.8 1079.2 L131.2 1079.2 L139.2 1168.8 Z" fill="url(#pipR)" stroke="none" stroke-width="0"/>
<path d="M97.9 1022.6 L139.2 1168.8 L124.9 1017" fill="none" stroke="#000" stroke-width="1.1"/>
<path d="M140 1180 C160 1172 178 1158 188 1142 C194.5 1131 197.5 1124 198.3 1118" fill="none" stroke="#d7261e" stroke-width="3.2"/>
<path d="M198.4 1113.8 L203.3 1124.1 L198.6 1120.5 L192 1123.2 Z" fill="#d7261e" stroke="none" stroke-width="0"/>
<circle cx="140.5" cy="1180" r="10.4" fill="#d7261e"/>
<text x="86.5" y="1180" font-size="28.5">BF</text>
<path d="M450.8 1057.5 L560 1059.2 C563 1067 566 1076 568 1083 C572 1095 576 1105 580 1115 C587 1128 595 1138 605 1148 C613 1156 622 1163 630 1169.5 C634 1176 634 1190 632 1200 C629 1212 620 1226 610 1233 C600 1240 590 1246 570 1251 C562 1252.5 556 1253 551 1253.5 C540 1251 528 1245 510 1234 C498 1226 485 1212 475 1200 C468 1190 460 1175 455 1160 C450 1145 446 1125 446 1100 C446 1085 447 1070 450.8 1057.5 Z" fill="#cccccc" stroke="none" stroke-width="0"/>
<path d="M517.5 1058.3 L540 1058.3 L596.7 1185 L461.7 1185 Z" fill="#5b8db8" stroke="none" stroke-width="0"/>
<path d="M450.8 1057.5 L560 1059.2 C563 1067 566 1076 568 1083 C572 1095 576 1105 580 1115 C587 1128 595 1138 605 1148 C613 1156 622 1163 630 1169.5 C634 1176 634 1190 632 1200 C629 1212 620 1226 610 1233 C600 1240 590 1246 570 1251 C562 1252.5 556 1253 551 1253.5 C540 1251 528 1245 510 1234 C498 1226 485 1212 475 1200 C468 1190 460 1175 455 1160 C450 1145 446 1125 446 1100 C446 1085 447 1070 450.8 1057.5 Z" fill="none" stroke="#000" stroke-width="1.6" stroke-dasharray="7 4.5"/>
<path d="M500 1010.8 H556.7 V1040 C556.7 1051 551 1058.3 540 1058.3 H517 C506 1058.3 500 1051 500 1040 Z" fill="url(#objG)" stroke="none" stroke-width="0"/>
<text x="527.5" y="1030.8" font-size="15" text-anchor="middle">40×</text>
<path d="M418.3 1169.5 C440 1173 470 1163 490 1150 C498 1145 503 1141 508.3 1137.5" fill="none" stroke="#d7261e" stroke-width="2"/>
<path d="M417.5 1184.5 C440 1188 472 1178 495 1163 C503 1158 510 1154 516.7 1150.8" fill="none" stroke="#d7261e" stroke-width="2"/>
<path d="M505.5 1133.5 C509 1131 513.5 1135 513.5 1139 C513 1142 509 1142 507 1141 C505 1139 504 1136 505.5 1133.5 Z" fill="#d7261e" stroke="none" stroke-width="0"/>
<path d="M513 1146.5 C517 1145 522 1148 522 1151 C521 1154 516 1154 514 1153 C512 1151 512 1148 513 1146.5 Z" fill="#d7261e" stroke="none" stroke-width="0"/>
<path d="M540 1123.3 L557.5 1114.2 M528 1143 L528 1180.8" fill="none" stroke="#231815" stroke-width="1.8"/>
<path d="M585.3 1048.9 L593.1 1055.1 L533.8 1119.8 L530.8 1118.5 Z" fill="#231815" stroke="none" stroke-width="0"/>
<path d="M585.3 1048.9 L610 1014.5 M593.4 1046.3 L632.4 998.9 H660 M593.1 1055.1 L624.9 1023.9" fill="none" stroke="#000" stroke-width="1.6"/>
<path d="M660 985.2 L678.6 998.9 L660 1012.5 Z M678.6 998.9 H694.8" fill="none" stroke="#000" stroke-width="1.6" stroke-linejoin="miter"/>
<path d="M660 1005.7 H651.9 V1026.2 M641.2 1026.2 H663 M645.4 1032.3 H658.4 M648.3 1038.2 H655.5" fill="none" stroke="#000" stroke-width="1.6"/>
<circle cx="528.3" cy="1131.7" r="13.3" fill="#231815"/>
<circle cx="528.3" cy="1131.7" r="3.2" fill="#8a8a8a"/>
<text x="527.8" y="1230" font-size="29.5">LHb</text>
</g>
<g id="ph">
<path d="M873.3 1015.1L873.9 1015.9L874.5 1015.1L875.1 1016.9L875.7 1017.1L876.3 1015.8L876.9 1015.8L877.5 1014.6L878.1 1016.3L878.7 1014L879.3 1016.7L879.9 1013.8L880.5 1014.2L881.1 1016.4L881.7 1013.9L882.3 1014.7L882.9 1014.1L883.5 1015.8L884.1 1016L884.7 1014.6L885.3 1014.6L885.9 1015.2L886.5 1014.6L887.1 1016.6L887.7 1014.2L888.3 1014.7L888.9 1016L889.5 1015.5L890.1 1014.5L890.7 1017.1L891.3 1016.4L891.9 1016.8L892.5 1014.3L893.1 1014.4L893.7 1016L894.3 1013.6L894.9 1015.8L895.5 1014.1L896.1 1014.4L896.7 1014.6L897.3 1017.3L897.9 1017L898.5 1015.7L899.1 1014.7L899.7 1017L900.3 1015.7L900.9 1016.4L901.5 1014.8L902.1 1015.5L902.7 1015.1L903.3 1015L903.9 1015.1L904.5 1016.5L905.1 1014.9L905.7 1015.9L906.3 1013.6L906.9 1015L907.5 1015.3L908.1 1015.8L908.7 1014.8L909.3 1016.8L909.9 1015L910.5 1015.6L911.1 1014.6L911.7 1015.5L912.3 1014.1L912.9 1016.3L913.5 1014.7L914.1 1017.2L914.7 1016L915.3 1017.4L915.9 1017.2L916.5 1016.8L917.1 1016.4L917.7 1015L918.3 1016.2L918.9 1014.3L919.5 1015.2L920.1 1014L920.7 1015.8L921.3 1013.8L921.9 1016L922.5 1017.4L923.1 1016.1L923.7 1015.7L924.3 1015.8L924.9 1015.8L925.5 1014.3L926.1 1015.5L926.7 1016.1L927.3 1015.1L927.9 1015.3L928.5 1014.5L929.1 1014.7L929.7 1016.3L930.3 1012.3L930.9 1007.5L931.5 1002L932.1 998.4L932.7 993.6L933.3 989.2L933.9 984L934.5 981.6L935.1 980L935.7 977L936.3 972.7L936.9 972.9L937.5 971.8L938.1 970.3L938.7 968.3L939.3 966.5L939.9 966.7L940.5 964.9L941.1 964.9L941.7 966.3L942.3 964.6L942.9 964.4L943.5 966L944.1 966.8L944.4 965.6L944.7 966.2L945.3 965L945.9 966.8L946.5 967.6L947.1 968.5L947.7 967L948.3 967.4L948.9 968.4L949.5 970.9L950.1 968.7L950.7 967.9L951.3 966.5L951.9 967.9L952.5 967.4L953.1 970.4L953.7 965.5L954.3 968.8L954.9 968.2L955.5 968.5L956.1 968L956.7 966.4L957.3 968.2L957.9 968.9L958.5 971.5L959.1 971.6L959.7 971.4L960.3 971.8L960.9 971.5L961.5 969.9L962.1 969.7L962.7 969.9L963.3 969.8L963.9 971.7L964.5 971.1L965.1 971.9L965.7 971.3L966.3 971.8L966.9 972.3L967.5 972.8L968.1 972.4L968.7 972.3L969.3 971.4L969.9 971.9L970.5 972.4L971.1 972.4L971.7 975.1L972.3 973.3L972.9 974.7L973.5 975.2L974.1 976.5L974.7 976.7L975.3 974.4L975.9 974.8L976.5 977L977.1 975.1L977.7 975.4L978.3 976.8L978.9 977.6L979.5 978.1L980.1 976.9L980.7 977L981.3 975.5L981.9 976.6L982.5 977.8L983.1 979L983.7 976.6L984.3 979.5L984.9 977.3L985.5 977.2L986.1 974.7L986.7 978.3L987.3 979.8L987.9 977.6L988.5 980.1L989.1 977.5L989.7 977.4L990.3 976.3L990.9 977.6L991.5 979.6L992.1 978.4L992.7 977.6L993.3 978.5L993.9 979L994.5 981.3L995.1 981.4L995.7 979.4L996.3 980.9L996.9 980.7L997.5 981.4L998.1 982.4L998.7 982.3L999.3 980L999.9 982.3L1000.5 979.9L1001.1 981.1L1001.7 980.1L1002.3 980.6L1002.9 980.6L1003.5 981L1004.1 982.7L1004.7 981.3L1005.3 981.5L1005.9 983.4L1006.5 983.2L1007.1 982.5L1007.7 984L1008.3 984.1L1008.9 980.9L1009.5 982.2L1010.1 983.7L1010.7 982.3L1011.3 984.1L1011.9 982.3L1012.5 983.9L1013.1 983.8L1013.7 983.5L1014.3 984.7L1014.9 983.4L1015.5 984.7L1016.1 984.4L1016.7 985.2L1017.3 984.9L1017.9 986L1018.5 985L1019.1 983.9L1019.7 984L1020.3 986.3L1020.9 985.5L1021.5 984.2L1022.1 984.9L1022.7 985.1L1023.3 987.1L1023.9 987.2L1024.5 984.7L1025.1 986.1L1025.7 987.9L1026.3 985.2L1026.9 987.5L1027.5 984.1L1028.1 988.3L1028.7 987.1L1029.3 989.3L1029.9 988.7L1030.5 988.5L1031.1 987.5L1031.7 987.8L1032.3 987.1L1032.9 988.3L1033.5 987.3L1034.1 988.5L1034.7 988.8L1035.3 990.6L1035.9 989.7L1036.5 988.8L1037.1 990.2L1037.7 987.7L1038.3 988.7L1038.9 989L1039.5 989.6L1040.1 989.5L1040.7 989.3L1041.3 990.7L1041.9 990.1L1042.5 990.6L1043.1 991.6L1043.7 989.2L1044.3 990.4L1044.9 994L1045.5 991.1L1046.1 990.4L1046.7 992.4L1047.3 992.7L1047.9 991.1L1048.5 992.4L1049.1 992L1049.7 991.4L1050.3 992L1050.9 991.6L1051.5 991.9L1052.1 992.4L1052.7 991.3L1053.3 990.8L1053.9 990.3L1054.5 991.9L1055.1 992.2L1055.7 992.8L1056.3 991.7L1056.9 991.6L1057.5 992.6L1058.1 993.5L1058.7 991.7L1059.3 991.1L1059.9 992L1060.5 993L1061.1 993.5L1061.7 992.7L1062.3 993.1L1062.9 993.9L1063.5 992.6L1064.1 994.1L1064.7 992.7L1065.3 993.3L1065.9 994.6L1066.5 994.5L1067.1 993.9L1067.7 993.6L1068.3 992.5L1068.9 994.4L1069.5 993.1L1070.1 995.5L1070.7 995L1071.3 996.2L1071.9 994.2L1072.5 995L1073.1 993.4L1073.7 994.7L1074.3 993.5L1074.9 994L1075.5 995L1076.1 994.3L1076.7 993.5L1077.3 996.6L1077.9 996L1078.5 994.6L1079.1 994.6L1079.7 996.5L1080.3 997L1080.9 997.4L1081.5 995.8L1082.1 995L1082.7 996L1083.3 996L1083.9 997.6L1084.5 995.3L1085.1 994.8L1085.7 996.4L1086.3 997.1L1086.9 997.3L1087.5 996L1088.1 996.1L1088.7 994.8L1089.3 999L1089.9 997.4L1090.5 996.6L1091.1 996.9L1091.7 997L1092.3 997L1092.9 997.5L1093.5 996.2L1094.1 995.2L1094.7 999L1095.3 998.4L1095.9 997.6L1096.5 997.5L1097.1 998.2L1097.7 996.2L1098.3 996.2L1098.9 998.6L1099.5 999.2L1100.1 996.8L1100.7 998.8L1101.3 1000.1L1101.9 998.5L1102.5 999.3L1103.1 998L1103.7 998.2L1104.3 1000.3L1104.9 998.1L1105.5 998.4L1106.1 998.7L1106.7 1000L1107.3 999.5L1107.9 997.7L1108.5 998.2L1109.1 998.8L1109.7 1000.1L1110.3 997.6L1110.9 998L1111.5 998.2L1112.1 1000.5L1112.7 1001.3L1113.3 999L1113.9 1000.6L1114.5 1000.8L1115.1 1001.1L1115.7 1000.6L1116.3 999.9L1116.9 1001L1117.5 1000.9L1118.1 999.3L1118.7 1001.3L1119.3 1000.9L1119.9 1000.3L1120.5 1001.3L1121.1 1000L1121.7 1002L1122.3 1001.5L1122.9 1002.1L1123.5 1000.2L1124.1 1001.6L1124.7 1001.4L1125.3 999.9L1125.9 1001.8L1126.5 999.6L1127.1 1001.6L1127.7 1001.6L1128.3 1000.9L1128.9 1000.8L1129.5 1001.6L1130.1 1002.1L1130.7 999.3L1131.3 1001.3L1131.9 1001.1L1132.5 1002.1L1133.1 1002.4L1133.7 1002.2L1134.3 1003.3L1134.9 1002.2L1135.5 1001.4L1136.1 1001.5L1136.7 1002.2L1137.3 1002.4L1137.9 1001.6L1138.5 1003.5L1139.1 1003.4L1139.7 1002.8L1140.3 1002.6L1140.9 1001.9L1141.5 1003L1142.1 1004.3L1142.7 1002L1143.3 1003.5L1143.9 1002.1L1144.5 1002.4L1145.1 1002.1L1145.7 1000.9L1146.3 1003.4L1146.9 1000.8L1147.5 1002L1148.1 1003.8L1148.7 1002.8L1149.3 1004L1149.9 1002.4L1150.5 1001.9L1151.1 1004.5L1151.7 1001.8L1152.3 1002.8L1152.9 1004.6" fill="none" stroke="#b3b3b3" stroke-width="3.8" stroke-linejoin="round" stroke-linecap="round"/>
<path d="M873.3 1038L873.9 1037.6L874.5 1038.5L875.1 1037.2L875.7 1038.4L876.3 1037.9L876.9 1036.5L877.5 1037.8L878.1 1037.1L878.7 1038.3L879.3 1040L879.9 1037.4L880.5 1038.7L881.1 1038.1L881.7 1039.7L882.3 1037.7L882.9 1039L883.5 1040.4L884.1 1037.9L884.7 1039.9L885.3 1039.7L885.9 1039.9L886.5 1037.6L887.1 1038.8L887.7 1039L888.3 1038.2L888.9 1038.3L889.5 1037.3L890.1 1038.8L890.7 1036.4L891.3 1037.9L891.9 1038.3L892.5 1038.8L893.1 1036.4L893.7 1037.8L894.3 1037.2L894.9 1037.6L895.5 1038.4L896.1 1037.4L896.7 1039.5L897.3 1039.8L897.9 1038.5L898.5 1039.9L899.1 1038.7L899.7 1039.9L900.3 1038.3L900.9 1038.9L901.5 1039.9L902.1 1039.8L902.7 1037.4L903.3 1040.1L903.9 1037.9L904.5 1038.9L905.1 1038.4L905.7 1037.9L906.3 1036.6L906.9 1039.5L907.5 1039.6L908.1 1039.3L908.7 1039.7L909.3 1041.8L909.9 1039.5L910.5 1036.8L911.1 1040.1L911.7 1038.2L912.3 1037.7L912.9 1040.1L913.5 1037.8L914.1 1038.2L914.7 1036.7L915.3 1037.1L915.9 1037.2L916.5 1036.7L917.1 1039L917.7 1038.3L918.3 1037.2L918.9 1038L919.5 1038.4L920.1 1037.5L920.7 1037.2L921.3 1037.7L921.9 1036.5L922.5 1039L923.1 1038L923.7 1037.2L924.3 1037.2L924.9 1036.8L925.5 1039.1L926.1 1036.9L926.7 1038.1L927.3 1037.2L927.9 1039.7L928.5 1037.9L929.1 1040.3L929.7 1043.9L930.3 1048.5L930.9 1053.2L931.5 1059.2L932.1 1066L932.7 1073.7L933.3 1081.5L933.9 1087.8L934.5 1096.9L935.1 1107L935.7 1114.1L936.3 1122.8L936.9 1130.6L937.5 1139.3L938.1 1146L938.7 1154.2L939.3 1158.6L939.9 1162.8L940.5 1167L941.1 1167.8L941.7 1169.8L942.2 1171.4L942.3 1171.6L942.9 1169.4L943.5 1170.8L944.1 1167.8L944.7 1167.2L945.3 1165.7L945.9 1164.2L946.5 1160.7L947.1 1157L947.7 1155.8L948.3 1150.1L948.9 1150.9L949.5 1149.1L950.1 1147.9L950.7 1143.9L951.3 1143.3L951.9 1139.7L952.5 1136.8L953.1 1137.4L953.7 1134.2L954.3 1133.4L954.9 1130.9L955.5 1128.8L956.1 1124.2L956.7 1123L957.3 1119.9L957.9 1119.4L958.5 1117L959.1 1116.4L959.7 1114.4L960.3 1112.9L960.9 1110.7L961.5 1107.8L962.1 1105.5L962.7 1106.4L963.3 1105.8L963.9 1102.5L964.5 1100.2L965.1 1098.6L965.7 1097.4L966.3 1097.9L966.9 1096.3L967.5 1092.3L968.1 1091.5L968.7 1090L969.3 1088.4L969.9 1089.1L970.5 1086.4L971.1 1085.4L971.7 1085.9L972.3 1085.1L972.9 1082.9L973.5 1080L974.1 1081.2L974.7 1080.1L975.3 1077.3L975.9 1078.4L976.5 1077.8L977.1 1075.6L977.7 1074.5L978.3 1075.7L978.9 1074.6L979.5 1071.8L980.1 1071L980.7 1070.5L981.3 1069.2L981.9 1069.2L982.5 1067.4L983.1 1068.8L983.7 1066.3L984.3 1065.7L984.9 1064.2L985.5 1064.4L986.1 1064.8L986.7 1062.8L987.3 1061.7L987.9 1063.2L988.5 1060.6L989.1 1061.6L989.7 1061.7L990.3 1061.1L990.9 1058.5L991.5 1057.9L992.1 1058L992.7 1058.7L993.3 1057.3L993.9 1056.7L994.5 1055.8L995.1 1056.4L995.7 1056.5L996.3 1055.7L996.9 1054.3L997.5 1053.3L998.1 1055.3L998.7 1054.4L999.3 1053.7L999.9 1053.1L1000.5 1051.2L1001.1 1051.1L1001.7 1052.1L1002.3 1050.7L1002.9 1051.5L1003.5 1051.5L1004.1 1049.5L1004.7 1051.3L1005.3 1049.5L1005.9 1049L1006.5 1047.7L1007.1 1047.9L1007.7 1047.4L1008.3 1047.7L1008.9 1047.6L1009.5 1046.8L1010.1 1048.1L1010.7 1049.3L1011.3 1047L1011.9 1047.6L1012.5 1047.8L1013.1 1048.3L1013.7 1047.5L1014.3 1047.7L1014.9 1046.5L1015.5 1047.3L1016.1 1044.1L1016.7 1046L1017.3 1046.1L1017.9 1045.6L1018.5 1045.3L1019.1 1045.2L1019.7 1046.6L1020.3 1044.8L1020.9 1045.6L1021.5 1045L1022.1 1044.7L1022.7 1044.3L1023.3 1044.4L1023.9 1042.5L1024.5 1044.3L1025.1 1042.3L1025.7 1044.1L1026.3 1042.4L1026.9 1042L1027.5 1041.5L1028.1 1041.4L1028.7 1042.3L1029.3 1042.8L1029.9 1044.2L1030.5 1040.9L1031.1 1042.2L1031.7 1042.3L1032.3 1041.6L1032.9 1042.4L1033.5 1043.4L1034.1 1041.9L1034.7 1042.9L1035.3 1042.8L1035.9 1041.2L1036.5 1041.7L1037.1 1041L1037.7 1040.8L1038.3 1039.8L1038.9 1043.3L1039.5 1041L1040.1 1040.7L1040.7 1039.6L1041.3 1039L1041.9 1040.9L1042.5 1041.8L1043.1 1039.9L1043.7 1039.6L1044.3 1042.8L1044.9 1041L1045.5 1041.8L1046.1 1041.2L1046.7 1040.9L1047.3 1039.2L1047.9 1039.6L1048.5 1040.5L1049.1 1041.6L1049.7 1039.4L1050.3 1041.2L1050.9 1041.3L1051.5 1041.7L1052.1 1039.9L1052.7 1038.9L1053.3 1038.1L1053.9 1038.5L1054.5 1041.2L1055.1 1038.8L1055.7 1039.5L1056.3 1039.1L1056.9 1041.5L1057.5 1039.8L1058.1 1040L1058.7 1038.9L1059.3 1038.7L1059.9 1040L1060.5 1038.3L1061.1 1039.5L1061.7 1039.6L1062.3 1038.9L1062.9 1039.9L1063.5 1041.2L1064.1 1041.2L1064.7 1040L1065.3 1038.3L1065.9 1039.9L1066.5 1039.5L1067.1 1039L1067.7 1038.3L1068.3 1039.9L1068.9 1037.7L1069.5 1037.8L1070.1 1039.2L1070.7 1038.7L1071.3 1038.9L1071.9 1038.2L1072.5 1038.1L1073.1 1038L1073.7 1039.2L1074.3 1039.2L1074.9 1037.9L1075.5 1038.8L1076.1 1039.3L1076.7 1038.8L1077.3 1039.1L1077.9 1037.5L1078.5 1038.6L1079.1 1039.8L1079.7 1039.8L1080.3 1038.3L1080.9 1038.6L1081.5 1037.6L1082.1 1037.4L1082.7 1039L1083.3 1037.3L1083.9 1035.4L1084.5 1040.2L1085.1 1040.7L1085.7 1038.3L1086.3 1039.2L1086.9 1040.6L1087.5 1040.3L1088.1 1040.9L1088.7 1040.9L1089.3 1038.2L1089.9 1038.3L1090.5 1040.4L1091.1 1040.7L1091.7 1038.7L1092.3 1039.2L1092.9 1039.5L1093.5 1037.5L1094.1 1039.4L1094.7 1038.3L1095.3 1038.6L1095.9 1037L1096.5 1038.2L1097.1 1039.1L1097.7 1036.8L1098.3 1037.3L1098.9 1039.5L1099.5 1037.2L1100.1 1039.9L1100.7 1038.8L1101.3 1038.2L1101.9 1038.8L1102.5 1039.1L1103.1 1037.8L1103.7 1039.2L1104.3 1036.5L1104.9 1037.6L1105.5 1038.5L1106.1 1038.1L1106.7 1039.4L1107.3 1040.4L1107.9 1035.2L1108.5 1037.4L1109.1 1038L1109.7 1038.5L1110.3 1038.8L1110.9 1039.5L1111.5 1037.7L1112.1 1039.1L1112.7 1040.1L1113.3 1038.5L1113.9 1038.1L1114.5 1040.1L1115.1 1037.9L1115.7 1037.1L1116.3 1038.4L1116.9 1038.5L1117.5 1039.3L1118.1 1038.6L1118.7 1039.8L1119.3 1037.9L1119.9 1040.1L1120.5 1038.4L1121.1 1039.3L1121.7 1038.6L1122.3 1038.9L1122.9 1038.4L1123.5 1039.5L1124.1 1037.1L1124.7 1038.2L1125.3 1037.5L1125.9 1039.3L1126.5 1038.5L1127.1 1038.8L1127.7 1036.7L1128.3 1037.8L1128.9 1038.2L1129.5 1036.7L1130.1 1040.6L1130.7 1039.3L1131.3 1039.7L1131.9 1039.2L1132.5 1039.7L1133.1 1038.2L1133.7 1037.6L1134.3 1039.6L1134.9 1039.7L1135.5 1037.8L1136.1 1038.6L1136.7 1038.5L1137.3 1036.6L1137.9 1036.6L1138.5 1037.6L1139.1 1038.5L1139.7 1038.2L1140.3 1042.1L1140.9 1038.8L1141.5 1038.1L1142.1 1037.8L1142.7 1039.8L1143.3 1040L1143.9 1039.1L1144.5 1038.9L1145.1 1038.7L1145.7 1038.8L1146.3 1038.6L1146.9 1038.9L1147.5 1039L1148.1 1038.2L1148.7 1038.6L1149.3 1037.4L1149.9 1041.1L1150.5 1037.3L1151.1 1037.8L1151.7 1039.2L1152.3 1036.7L1152.9 1037" fill="none" stroke="#b3b3b3" stroke-width="3.8" stroke-linejoin="round" stroke-linecap="round"/>
<path d="M1193.3 1014.6L1193.9 1017.1L1194.5 1014L1195.1 1015.3L1195.7 1015.1L1196.3 1015L1196.9 1016.3L1197.5 1016.5L1198.1 1016.7L1198.7 1014.1L1199.3 1014L1199.9 1016.9L1200.5 1014.2L1201.1 1017L1201.7 1015.1L1202.3 1018.1L1202.9 1017.2L1203.5 1016.4L1204.1 1015.3L1204.7 1017.3L1205.3 1015.6L1205.9 1014.9L1206.5 1014.4L1207.1 1017.2L1207.7 1016.2L1208.3 1015.1L1208.9 1014.7L1209.5 1016.7L1210.1 1014.5L1210.7 1015.3L1211.3 1016L1211.9 1017.3L1212.5 1018.4L1213.1 1015L1213.7 1016.5L1214.3 1016.4L1214.9 1015.8L1215.5 1016.1L1216.1 1015.9L1216.7 1014.6L1217.3 1014.6L1217.9 1015.2L1218.5 1015.3L1219.1 1014.3L1219.7 1016.4L1220.3 1015.1L1220.9 1016.1L1221.5 1014.3L1222.1 1015.3L1222.7 1016.6L1223.3 1016.7L1223.9 1018.7L1224.5 1015.2L1225.1 1015L1225.7 1015.7L1226.3 1014.6L1226.9 1014.6L1227.5 1015.3L1228.1 1016L1228.7 1014.8L1229.3 1014.4L1229.9 1015.7L1230.5 1015.9L1231.1 1016.1L1231.7 1015.1L1232.3 1015.5L1232.9 1014.3L1233.5 1014.5L1234.1 1014.3L1234.7 1016.9L1235.3 1015.7L1235.9 1016.3L1236.5 1014.6L1237.1 1015.5L1237.7 1015.3L1238.3 1016.4L1238.9 1015.4L1239.5 1015.9L1240.1 1014.5L1240.7 1015.8L1241.3 1015.6L1241.9 1013.8L1242.5 1014.7L1243.1 1014.9L1243.7 1015.6L1244.3 1018.3L1244.9 1016.4L1245.5 1013.9L1246.1 1014.4L1246.7 1014.2L1247.3 1014.9L1247.9 1016.9L1248.5 1014.8L1249.1 1014.8L1249.7 1015.7L1250.3 1010.1L1250.9 1007.1L1251.5 1001L1252.1 995.7L1252.7 993.5L1253.3 989.2L1253.9 983.6L1254.5 979.7L1255.1 977.1L1255.7 976.1L1256.3 972.2L1256.9 968.7L1257.5 968.8L1258.1 966.7L1258.7 966.4L1259.3 963.9L1259.9 963.4L1260.5 962.1L1261.1 961.1L1261.7 962.7L1262.3 961.6L1262.9 961.9L1263.5 960.1L1264.1 960.4L1264.7 958.2L1265.3 961L1265.9 958.1L1266.5 959.2L1266.7 959.3L1267.1 958.6L1267.7 959.9L1268.3 960.5L1268.9 959.2L1269.5 961.4L1270.1 959.4L1270.7 961.7L1271.3 959.5L1271.9 962L1272.5 960.8L1273.1 962.7L1273.7 962.4L1274.3 963.4L1274.9 962.9L1275.5 962.5L1276.1 962.5L1276.7 965.3L1277.3 964.5L1277.9 966L1278.5 963.8L1279.1 964.7L1279.7 966.1L1280.3 965.7L1280.9 964.8L1281.5 965.9L1282.1 967.5L1282.7 965.7L1283.3 966.3L1283.9 966.4L1284.5 968L1285.1 966.7L1285.7 967.5L1286.3 966.9L1286.9 968.9L1287.5 968.8L1288.1 966.9L1288.7 966.6L1289.3 969.3L1289.9 967.5L1290.5 968L1291.1 969.6L1291.7 969L1292.3 970.1L1292.9 969.9L1293.5 970.4L1294.1 969.2L1294.7 970.1L1295.3 970.5L1295.9 971.6L1296.5 971.3L1297.1 972.7L1297.7 972.4L1298.3 972.6L1298.9 971.1L1299.5 970.9L1300.1 971.1L1300.7 973.9L1301.3 973.8L1301.9 972.9L1302.5 972.3L1303.1 974.9L1303.7 973.1L1304.3 973.4L1304.9 973.8L1305.5 974.8L1306.1 975.9L1306.7 974.2L1307.3 974.5L1307.9 975.4L1308.5 974.1L1309.1 975.7L1309.7 976L1310.3 975.2L1310.9 975.3L1311.5 975.3L1312.1 977.3L1312.7 978.8L1313.3 978.2L1313.9 978.3L1314.5 978.7L1315.1 977.3L1315.7 979.6L1316.3 975.1L1316.9 978.4L1317.5 977.4L1318.1 979L1318.7 978.5L1319.3 980.6L1319.9 979L1320.5 979.1L1321.1 979.4L1321.7 981.8L1322.3 981.4L1322.9 980.7L1323.5 981.9L1324.1 981.1L1324.7 981.2L1325.3 981.8L1325.9 981.8L1326.5 980.5L1327.1 982.4L1327.7 981.1L1328.3 983.8L1328.9 983.4L1329.5 983.6L1330.1 982.6L1330.7 983.8L1331.3 982.4L1331.9 983.3L1332.5 982.3L1333.1 984.6L1333.7 985L1334.3 983.2L1334.9 983.4L1335.5 985.2L1336.1 984.4L1336.7 984.4L1337.3 984.2L1337.9 984.8L1338.5 982.8L1339.1 985.3L1339.7 984.8L1340.3 985.5L1340.9 988.5L1341.5 984.8L1342.1 984.3L1342.7 985.1L1343.3 984.7L1343.9 983.8L1344.5 986.8L1345.1 986.6L1345.7 985.6L1346.3 984.8L1346.9 985.6L1347.5 986.1L1348.1 986L1348.7 987L1349.3 988.9L1349.9 987.2L1350.5 988.8L1351.1 987.8L1351.7 988.8L1352.3 986L1352.9 986.4L1353.5 988L1354.1 988.7L1354.7 989.6L1355.3 989L1355.9 987.3L1356.5 987.9L1357.1 989L1357.7 988.5L1358.3 988.8L1358.9 990.1L1359.5 990.8L1360.1 990.6L1360.7 991L1361.3 988.1L1361.9 991.8L1362.5 991.2L1363.1 990.9L1363.7 989.3L1364.3 991.3L1364.9 991.6L1365.5 990.4L1366.1 990.6L1366.7 991.1L1367.3 993.8L1367.9 990.2L1368.5 991.6L1369.1 990.8L1369.7 992.1L1370.3 993L1370.9 991.2L1371.5 993.5L1372.1 993.3L1372.7 992.1L1373.3 992.2L1373.9 994.3L1374.5 992.1L1375.1 994.4L1375.7 992.6L1376.3 992L1376.9 992.9L1377.5 994.4L1378.1 991.9L1378.7 992.5L1379.3 993.1L1379.9 992.3L1380.5 994.1L1381.1 993.9L1381.7 994.9L1382.3 994L1382.9 994.5L1383.5 994.8L1384.1 995.1L1384.7 997.7L1385.3 993.6L1385.9 994.6L1386.5 995.1L1387.1 995.6L1387.7 994.2L1388.3 996.3L1388.9 995.5L1389.5 994.6L1390.1 995.6L1390.7 994.5L1391.3 994.4L1391.9 996.2L1392.5 995.6L1393.1 997.2L1393.7 996L1394.3 996.4L1394.9 997.8L1395.5 996.9L1396.1 996.9L1396.7 997.7L1397.3 997.8L1397.9 997.4L1398.5 997L1399.1 998.3L1399.7 998.2L1400.3 998.5L1400.9 998L1401.5 997.6L1402.1 995.7L1402.7 997.8L1403.3 995.9L1403.9 995.8L1404.5 998.8L1405.1 997.4L1405.7 997L1406.3 997.9L1406.9 996.3L1407.5 998.5L1408.1 996.5L1408.7 997.6L1409.3 997L1409.9 999.2L1410.5 997.1L1411.1 999L1411.7 999.7L1412.3 999L1412.9 997.5L1413.5 997.9L1414.1 1000.2L1414.7 997.7L1415.3 998.7L1415.9 998.9L1416.5 1000.3L1417.1 998.8L1417.7 999.6L1418.3 999.7L1418.9 999.2L1419.5 1000.8L1420.1 999L1420.7 999L1421.3 1001L1421.9 1001.5L1422.5 998.3L1423.1 999.3L1423.7 1001.2L1424.3 1001L1424.9 997.8L1425.5 1003L1426.1 999.8L1426.7 999.2L1427.3 1001L1427.9 999.1L1428.5 1001.4L1429.1 1001.8L1429.7 1001.9L1430.3 999.6L1430.9 1000.4L1431.5 1002.5L1432.1 1001.4L1432.7 1001.1L1433.3 1002L1433.9 1000.7L1434.5 1002.7L1435.1 1002.6L1435.7 1000.8L1436.3 1001.7L1436.9 1000.8L1437.5 1002L1438.1 998.3L1438.7 1001.9L1439.3 1001.3L1439.9 1003.1L1440.5 1002.4L1441.1 1001.2L1441.7 1001.7L1442.3 1002.3L1442.9 1001.3L1443.5 1002.8L1444.1 1003.5L1444.7 1001.8L1445.3 1002L1445.9 1003L1446.5 1003.9L1447.1 1003.6L1447.7 1003L1448.3 1004.3L1448.9 1001.8L1449.5 1004.5L1450.1 1002.6L1450.7 1003.8L1451.3 1003.5L1451.9 999.2L1452.5 1003.9L1453.1 1002.6L1453.7 1004.9L1454.3 1005L1454.9 1002.7L1455.5 1002.1L1456.1 1002.2L1456.7 1003.5L1457.3 1003.1L1457.9 1002.8L1458.5 1002L1459.1 1001.5L1459.7 1004.4L1460.3 1002.2L1460.9 1003.1L1461.5 1002.4L1462.1 1002.8L1462.7 1005.4L1463.3 1003.4L1463.9 1003.7L1464.5 1003.5L1465.1 1004.9L1465.7 1003.5L1466.3 1005.9L1466.9 1003.7L1467.5 1004.4L1468.1 1004L1468.7 1006.6L1469.3 1003.8L1469.9 1004.2L1470.5 1005.7L1471.1 1005.3L1471.7 1005.8L1472.3 1006.8L1472.9 1006.4" fill="none" stroke="#bf4a58" stroke-width="3.8" stroke-linejoin="round" stroke-linecap="round"/>
<path d="M1193.3 1039.4L1193.9 1038.3L1194.5 1039L1195.1 1038.1L1195.7 1038.6L1196.3 1040.3L1196.9 1038.8L1197.5 1036.5L1198.1 1039.8L1198.7 1038.6L1199.3 1042.3L1199.9 1039.6L1200.5 1038L1201.1 1037.1L1201.7 1037.1L1202.3 1037.7L1202.9 1037.2L1203.5 1037.8L1204.1 1038.9L1204.7 1038.3L1205.3 1038.5L1205.9 1040L1206.5 1038.4L1207.1 1039L1207.7 1039.9L1208.3 1040.6L1208.9 1039.9L1209.5 1038.4L1210.1 1040.1L1210.7 1038.8L1211.3 1038.7L1211.9 1040.1L1212.5 1037.7L1213.1 1038.6L1213.7 1038.7L1214.3 1038.2L1214.9 1039.4L1215.5 1039.5L1216.1 1040.1L1216.7 1037.2L1217.3 1037.1L1217.9 1038.5L1218.5 1037.6L1219.1 1039.1L1219.7 1040.3L1220.3 1040.5L1220.9 1038.3L1221.5 1040.2L1222.1 1039.7L1222.7 1038.2L1223.3 1039.2L1223.9 1040.1L1224.5 1039.5L1225.1 1036.9L1225.7 1038.8L1226.3 1040.4L1226.9 1037.8L1227.5 1039.4L1228.1 1039.4L1228.7 1040.2L1229.3 1037.1L1229.9 1037.4L1230.5 1039.3L1231.1 1039.9L1231.7 1039.1L1232.3 1040.4L1232.9 1039.9L1233.5 1040.1L1234.1 1037.8L1234.7 1037.8L1235.3 1038.5L1235.9 1040L1236.5 1038.4L1237.1 1039.1L1237.7 1040.5L1238.3 1037.6L1238.9 1038.9L1239.5 1038.6L1240.1 1037.7L1240.7 1037.6L1241.3 1039.5L1241.9 1037.2L1242.5 1039.2L1243.1 1038.4L1243.7 1039.7L1244.3 1038.1L1244.9 1038.1L1245.5 1039.8L1246.1 1040L1246.7 1039.4L1247.3 1041.1L1247.9 1038.3L1248.5 1038.5L1249.1 1038.2L1249.7 1040.9L1250.3 1046.6L1250.9 1052.9L1251.5 1062.6L1252.1 1073.5L1252.7 1087.3L1253.3 1102.2L1253.9 1117.4L1254.5 1135.8L1255.1 1151.4L1255.7 1168.3L1256.3 1186.8L1256.9 1203.4L1257.5 1218.1L1258.1 1232.9L1258.7 1246.7L1259.3 1258.1L1259.9 1265.4L1260.5 1274L1261.1 1278.3L1261.7 1278.3L1261.8 1277.9L1262.3 1274.5L1262.9 1268.6L1263.5 1262.2L1264.1 1258.1L1264.7 1252.3L1265.3 1245.9L1265.9 1241L1266.5 1235.4L1267.1 1229.9L1267.7 1225.1L1268.3 1220.3L1268.9 1216.9L1269.5 1212.8L1270.1 1206.5L1270.7 1202.8L1271.3 1198.5L1271.9 1195.7L1272.5 1191.2L1273.1 1188.4L1273.7 1183L1274.3 1181.2L1274.9 1175.8L1275.5 1173.9L1276.1 1170.2L1276.7 1162.7L1277.3 1162.4L1277.9 1161.6L1278.5 1156.6L1279.1 1153.1L1279.7 1151.3L1280.3 1148.5L1280.9 1146.3L1281.5 1142.7L1282.1 1140.7L1282.7 1139.8L1283.3 1136.4L1283.9 1135.4L1284.5 1132.3L1285.1 1131.4L1285.7 1126.5L1286.3 1126.3L1286.9 1124.1L1287.5 1122L1288.1 1117.6L1288.7 1115.7L1289.3 1115.5L1289.9 1112L1290.5 1111.6L1291.1 1108.5L1291.7 1108.3L1292.3 1106.8L1292.9 1104L1293.5 1103.2L1294.1 1100.1L1294.7 1099.2L1295.3 1098.9L1295.9 1097.4L1296.5 1094.8L1297.1 1094.9L1297.7 1092L1298.3 1092.6L1298.9 1091.1L1299.5 1090L1300.1 1087.3L1300.7 1085.3L1301.3 1084.2L1301.9 1083.9L1302.5 1083L1303.1 1080.7L1303.7 1080.8L1304.3 1080.3L1304.9 1079.4L1305.5 1076.1L1306.1 1076.2L1306.7 1075.6L1307.3 1073.6L1307.9 1074L1308.5 1072.4L1309.1 1073.6L1309.7 1072.1L1310.3 1071L1310.9 1069.6L1311.5 1068.2L1312.1 1066L1312.7 1067.4L1313.3 1067.2L1313.9 1066.6L1314.5 1063.7L1315.1 1065.8L1315.7 1064.1L1316.3 1063.4L1316.9 1063.7L1317.5 1063.6L1318.1 1061.9L1318.7 1062.4L1319.3 1061.1L1319.9 1059.1L1320.5 1060.4L1321.1 1058.7L1321.7 1059.5L1322.3 1059.4L1322.9 1058.9L1323.5 1058.4L1324.1 1060.5L1324.7 1057.3L1325.3 1057.3L1325.9 1056.6L1326.5 1054L1327.1 1050.7L1327.7 1054.1L1328.3 1054.7L1328.9 1054.1L1329.5 1052.1L1330.1 1052.3L1330.7 1052.1L1331.3 1051.3L1331.9 1051.6L1332.5 1052.7L1333.1 1050.6L1333.7 1052L1334.3 1051.5L1334.9 1051.4L1335.5 1050.6L1336.1 1050.9L1336.7 1049.6L1337.3 1050.2L1337.9 1050.1L1338.5 1050.1L1339.1 1050.2L1339.7 1049.4L1340.3 1047.3L1340.9 1048.5L1341.5 1047.5L1342.1 1048.3L1342.7 1046.2L1343.3 1046L1343.9 1046.1L1344.5 1043.5L1345.1 1047.4L1345.7 1046.6L1346.3 1047.5L1346.9 1045.9L1347.5 1047.3L1348.1 1047.1L1348.7 1045.1L1349.3 1045.7L1349.9 1045.6L1350.5 1045.3L1351.1 1045L1351.7 1045.7L1352.3 1044.7L1352.9 1046.3L1353.5 1043.3L1354.1 1042.4L1354.7 1043.2L1355.3 1042.9L1355.9 1043.1L1356.5 1043.8L1357.1 1042L1357.7 1043.7L1358.3 1043.9L1358.9 1042.4L1359.5 1043.2L1360.1 1041.6L1360.7 1041.9L1361.3 1041.4L1361.9 1042.3L1362.5 1041.4L1363.1 1044.2L1363.7 1043.8L1364.3 1044.1L1364.9 1043.4L1365.5 1041.8L1366.1 1040.8L1366.7 1040.3L1367.3 1040L1367.9 1041.9L1368.5 1041.4L1369.1 1040.4L1369.7 1041.2L1370.3 1039.9L1370.9 1043L1371.5 1041.4L1372.1 1042.4L1372.7 1040.6L1373.3 1043L1373.9 1040.4L1374.5 1041.9L1375.1 1042.7L1375.7 1041.8L1376.3 1040.2L1376.9 1042.6L1377.5 1041.3L1378.1 1040.2L1378.7 1039.5L1379.3 1039.9L1379.9 1041.7L1380.5 1041.3L1381.1 1040.1L1381.7 1040.8L1382.3 1039.3L1382.9 1039.3L1383.5 1040.2L1384.1 1041.3L1384.7 1040.5L1385.3 1040.6L1385.9 1040.6L1386.5 1039.7L1387.1 1040.1L1387.7 1039.3L1388.3 1039.9L1388.9 1041.4L1389.5 1040.3L1390.1 1040.5L1390.7 1042.8L1391.3 1040.1L1391.9 1039.7L1392.5 1040.8L1393.1 1041.7L1393.7 1039.9L1394.3 1041.1L1394.9 1040.7L1395.5 1041.3L1396.1 1039.4L1396.7 1038.3L1397.3 1040.2L1397.9 1041.9L1398.5 1039.4L1399.1 1041.7L1399.7 1038.9L1400.3 1040.1L1400.9 1038.8L1401.5 1038.7L1402.1 1039.1L1402.7 1038.4L1403.3 1037.8L1403.9 1037.5L1404.5 1037.8L1405.1 1038.4L1405.7 1038.4L1406.3 1040.5L1406.9 1040.9L1407.5 1039.6L1408.1 1038L1408.7 1038.8L1409.3 1039.7L1409.9 1038.6L1410.5 1040.1L1411.1 1039.3L1411.7 1037.6L1412.3 1037.8L1412.9 1036.4L1413.5 1039.7L1414.1 1041.1L1414.7 1041.4L1415.3 1039.7L1415.9 1039.2L1416.5 1041.3L1417.1 1038.7L1417.7 1038.5L1418.3 1040.2L1418.9 1039.6L1419.5 1038L1420.1 1040.3L1420.7 1039.2L1421.3 1039.7L1421.9 1039L1422.5 1040.5L1423.1 1039.6L1423.7 1038.4L1424.3 1040L1424.9 1036.2L1425.5 1038.4L1426.1 1039.8L1426.7 1039.3L1427.3 1040.7L1427.9 1040.5L1428.5 1040.8L1429.1 1039.9L1429.7 1037.9L1430.3 1038.9L1430.9 1039.5L1431.5 1038.7L1432.1 1039.1L1432.7 1039.9L1433.3 1038.8L1433.9 1037.4L1434.5 1037.4L1435.1 1037.9L1435.7 1039L1436.3 1036L1436.9 1039.5L1437.5 1039L1438.1 1039.1L1438.7 1037.1L1439.3 1039L1439.9 1038.8L1440.5 1037.9L1441.1 1039.6L1441.7 1038L1442.3 1039.2L1442.9 1038.2L1443.5 1038.1L1444.1 1038.5L1444.7 1039.5L1445.3 1039.3L1445.9 1040.2L1446.5 1039.4L1447.1 1039L1447.7 1037.7L1448.3 1037L1448.9 1037.2L1449.5 1039.6L1450.1 1041.9L1450.7 1037.7L1451.3 1038.7L1451.9 1038.9L1452.5 1039L1453.1 1038L1453.7 1040.1L1454.3 1040L1454.9 1038.3L1455.5 1038.2L1456.1 1038.9L1456.7 1038.3L1457.3 1040.1L1457.9 1038.8L1458.5 1039.5L1459.1 1038.1L1459.7 1039.8L1460.3 1039.4L1460.9 1038.5L1461.5 1037.9L1462.1 1040L1462.7 1039.9L1463.3 1039.9L1463.9 1037.5L1464.5 1040.3L1465.1 1038.6L1465.7 1038.9L1466.3 1040.8L1466.9 1038.6L1467.5 1039.3L1468.1 1039.6L1468.7 1038.4L1469.3 1038.3L1469.9 1039.2L1470.5 1039L1471.1 1039.6L1471.7 1039.7L1472.3 1037.3L1472.9 1037.4" fill="none" stroke="#bf4a58" stroke-width="3.8" stroke-linejoin="round" stroke-linecap="round"/>
<circle cx="1044" cy="990.7" r="4.9" fill="#231f20"/>
<circle cx="942.2" cy="1171.1" r="4.9" fill="#231f20"/>
<circle cx="1366" cy="991.1" r="4.9" fill="#231815"/>
<circle cx="1261.8" cy="1277.8" r="4.9" fill="#231815"/>
<text x="1017.8" y="947" font-size="29.6" text-anchor="middle">UC</text>
<text x="1336" y="947" font-size="29.6" text-anchor="middle">C</text>
<path d="M1348.9 1237.8 H1461.1 V1148.9" fill="none" stroke="#000" stroke-width="4.3" stroke-linejoin="miter"/>
<text x="1478.7" y="1153.3" font-size="25" transform="rotate(90 1478.7 1153.3)">100 pA</text>
<text x="1371.1" y="1265.6" font-size="25">50 ms</text>
</g>
<g id="pi">
<rect x="1821.1" y="1138.2" width="50.5" height="89.6" fill="#b3b3b3"/>
<rect x="1896.7" y="1069.3" width="51.1" height="158.5" fill="#d0505e"/>
<circle cx="1846.7" cy="1050.2" r="4.8" fill="#b3b3b3" stroke="#000" stroke-width="1.2"/>
<circle cx="1846.7" cy="1090" r="4.8" fill="#b3b3b3" stroke="#000" stroke-width="1.2"/>
<circle cx="1826.7" cy="1115.6" r="4.8" fill="#b3b3b3" stroke="#000" stroke-width="1.2"/>
<circle cx="1846.7" cy="1122.9" r="4.8" fill="#b3b3b3" stroke="#000" stroke-width="1.2"/>
<circle cx="1826.7" cy="1151.1" r="4.8" fill="#b3b3b3" stroke="#000" stroke-width="1.2"/>
<circle cx="1846.7" cy="1153.8" r="4.8" fill="#b3b3b3" stroke="#000" stroke-width="1.2"/>
<circle cx="1866.7" cy="1153.3" r="4.8" fill="#b3b3b3" stroke="#000" stroke-width="1.2"/>
<circle cx="1846.7" cy="1171.6" r="4.8" fill="#b3b3b3" stroke="#000" stroke-width="1.2"/>
<circle cx="1836.7" cy="1191.1" r="4.8" fill="#b3b3b3" stroke="#000" stroke-width="1.2"/>
<circle cx="1856.7" cy="1186.2" r="4.8" fill="#b3b3b3" stroke="#000" stroke-width="1.2"/>
<circle cx="1922.2" cy="977.8" r="4.8" fill="#d0505e" stroke="#000" stroke-width="1.2"/>
<circle cx="1922.2" cy="1004.9" r="4.8" fill="#d0505e" stroke="#000" stroke-width="1.2"/>
<circle cx="1922.2" cy="1034.2" r="4.8" fill="#d0505e" stroke="#000" stroke-width="1.2"/>
<circle cx="1911.6" cy="1064.9" r="4.8" fill="#d0505e" stroke="#000" stroke-width="1.2"/>
<circle cx="1932.9" cy="1071.1" r="4.8" fill="#d0505e" stroke="#000" stroke-width="1.2"/>
<circle cx="1922.2" cy="1121.1" r="4.8" fill="#d0505e" stroke="#000" stroke-width="1.2"/>
<circle cx="1922.2" cy="1136.2" r="4.8" fill="#d0505e" stroke="#000" stroke-width="1.2"/>
<circle cx="1922.2" cy="1146.7" r="4.8" fill="#d0505e" stroke="#000" stroke-width="1.2"/>
<line x1="1846.7" y1="1125.6" x2="1846.7" y2="1152.2" stroke="#000" stroke-width="4"/>
<line x1="1922.2" y1="1047.8" x2="1922.2" y2="1091.1" stroke="#000" stroke-width="4"/>
<path d="M1796 961.5 V1230.5 M1788.4 1228.3 H1973.3" fill="none" stroke="#000" stroke-width="4.4"/>
<line x1="1788.4" y1="1161.4" x2="1796.2" y2="1161.4" stroke="#000" stroke-width="4.4"/>
<line x1="1788.4" y1="1095" x2="1796.2" y2="1095" stroke="#000" stroke-width="4.4"/>
<line x1="1788.4" y1="1028.6" x2="1796.2" y2="1028.6" stroke="#000" stroke-width="4.4"/>
<line x1="1788.4" y1="962.2" x2="1796.2" y2="962.2" stroke="#000" stroke-width="4.4"/>
<text x="1779" y="1236.8" font-size="25" text-anchor="end">0</text>
<text x="1779" y="1170.4" font-size="25" text-anchor="end">5</text>
<text x="1779" y="1104" font-size="25" text-anchor="end">10</text>
<text x="1779" y="1037.6" font-size="25" text-anchor="end">15</text>
<text x="1779" y="971.2" font-size="25" text-anchor="end">20</text>
<text x="1730" y="1206.5" font-size="25.5" transform="rotate(-90 1730 1206.5)">AMPA / NMDA ratio</text>
<text x="1843.3" y="1270" font-size="25.5" text-anchor="middle">UC</text>
<text x="1922.2" y="1270" font-size="25.5" text-anchor="middle">C</text>
<text x="1922.2" y="965.4" font-size="38" text-anchor="middle" font-weight="bold" transform="translate(1922.2 0) scale(0.92 1) translate(-1922.2 0)" style="font-family:'DejaVu Sans',sans-serif">*</text>
</g>
<g id="pj">
<path d="M54 1437.8 H233 M352.2 1437.8 H531.4 M624 1438 H885.8 M1010.4 1438 H1272.6" fill="none" stroke="#000" stroke-width="3.4"/>
<text x="291.8" y="1446.2" font-size="29.8" text-anchor="middle">20 Hz</text>
<text x="948.6" y="1445.6" font-size="29.3" text-anchor="middle">10 Hz</text>
<text x="152.2" y="1490.2" font-size="29.6" text-anchor="middle">UC</text>
<text x="414.4" y="1490.2" font-size="29.6" text-anchor="middle">C</text>
<text x="768.1" y="1490.4" font-size="29.6" text-anchor="middle">UC</text>
<text x="1119.1" y="1490.4" font-size="29.6" text-anchor="middle">C</text>
<rect x="112" y="1512.1" width="8.8" height="16" fill="#1b4a98"/>
<rect x="175.8" y="1512.1" width="8.8" height="16" fill="#1b4a98"/>
<rect x="376" y="1512.1" width="8.8" height="16" fill="#1b4a98"/>
<rect x="440.2" y="1512.1" width="8.8" height="16" fill="#1b4a98"/>
<rect x="695" y="1512.1" width="8.8" height="16" fill="#1b4a98"/>
<rect x="826.1" y="1512.1" width="8.8" height="16" fill="#1b4a98"/>
<rect x="1046.5" y="1512.1" width="8.8" height="16" fill="#1b4a98"/>
<rect x="1175.7" y="1512.1" width="8.8" height="16" fill="#1b4a98"/>
<path d="M52.6 1547.5L53.1 1546L53.7 1545.4L54.2 1546.8L54.8 1548.5L55.3 1550L55.9 1547.3L56.4 1547.5L57 1550.1L57.5 1549L58.1 1549.3L58.6 1549.2L59.2 1545.8L59.7 1547.2L60.3 1548.5L60.8 1550.3L61.4 1548.8L61.9 1547.3L62.5 1550.9L63 1546.5L63.6 1547.4L64.1 1548.3L64.7 1549.5L65.2 1548.1L65.8 1550.4L66.3 1547.4L66.9 1548L67.4 1549.4L68 1547.4L68.5 1546.5L69.1 1549.8L69.6 1547.7L70.2 1547.7L70.7 1548.4L71.3 1548.9L71.8 1548.8L72.4 1549.7L72.9 1544.1L73.5 1548.2L74 1547.5L74.6 1548.6L75.1 1546.1L75.7 1549L76.2 1546.1L76.8 1546.2L77.3 1547.5L77.9 1546.4L78.4 1547.5L79 1546.7L79.5 1548.6L80.1 1546L80.6 1545.8L81.2 1547.9L81.7 1549L82.3 1544.8L82.8 1549.9L83.4 1548L83.9 1549.2L84.5 1545.6L85 1548.6L85.6 1548.5L86.1 1549.6L86.7 1546.9L87.2 1549.1L87.8 1544.1L88.3 1548.8L88.9 1549.5L89.4 1550.2L90 1550.4L90.5 1550L91.1 1548.1L91.6 1549.7L92.2 1548.3L92.7 1550.7L93.3 1549.5L93.8 1547.1L94.4 1549.3L94.9 1552L95.5 1550.1L96 1548.1L96.6 1549.2L97.1 1548.4L97.7 1550L98.2 1549L98.8 1547.9L99.3 1548.2L99.9 1547.9L100.4 1549.1L101 1547L101.5 1548.4L102.1 1548.2L102.6 1546.7L103.2 1547.1L103.7 1549.2L104.3 1546L104.8 1548.4L105.4 1546.9L105.9 1547.3L106.5 1548.8L107 1548.6L107.6 1546.9L108.1 1549L108.7 1546L109.2 1549L109.8 1546.8L110.3 1549L110.9 1546.5L111.4 1547.2L112 1549.3L112.5 1547.4L113.1 1546.8L113.6 1550.6L114.2 1546.2L114.7 1546.1L115.3 1551.7L115.8 1570.9L116.4 1602.5L116.9 1638L117.5 1680.2L118 1716.3L118.6 1750.1L119.1 1770.7L119.7 1780.7L119.8 1783L120.2 1773L120.8 1756.7L121.3 1746.1L121.9 1736.1L122.4 1724.3L123 1715.5L123.5 1705.9L124.1 1696.8L124.6 1688.6L125.2 1683.5L125.7 1674.1L126.3 1668.5L126.8 1662L127.4 1655L127.9 1649.8L128.5 1641.8L129 1638L129.6 1633.9L130.1 1625.8L130.7 1623.1L131.2 1618.6L131.8 1616L132.3 1611.6L132.9 1607.2L133.4 1603.5L134 1602.6L134.5 1598.4L135.1 1596.2L135.6 1593.2L136.2 1589.2L136.7 1587.7L137.3 1585.6L137.8 1581.5L138.4 1580.9L138.9 1578.2L139.5 1577.3L140 1575.3L140.6 1574.1L141.1 1575.4L141.7 1576.6L142.2 1572.5L142.8 1570.5L143.3 1568.1L143.9 1568.7L144.4 1567.1L145 1565.5L145.5 1563.8L146.1 1562.6L146.7 1561.2L147.2 1558.9L147.8 1560.2L148.3 1559.3L148.9 1558.5L149.4 1557.5L150 1557.5L150.5 1556.3L151.1 1558.1L151.6 1556.5L152.2 1555.9L152.7 1554.5L153.3 1556L153.8 1552.7L154.4 1554.2L154.9 1555.1L155.5 1555.7L156 1555.9L156.6 1552.5L157.1 1552.5L157.7 1554.4L158.2 1552.4L158.8 1552.6L159.3 1554.6L159.9 1554.7L160.4 1553.6L161 1553.8L161.5 1552.8L162.1 1550.2L162.6 1551.8L163.2 1552.8L163.7 1552L164.3 1552.1L164.8 1549.7L165.4 1549.8L165.9 1551.7L166.5 1551L167 1549L167.6 1551.7L168.1 1549.9L168.7 1548L169.2 1550.6L169.8 1548.9L170.3 1548.7L170.9 1549.8L171.4 1549.1L172 1550.5L172.5 1548.9L173.1 1547.7L173.6 1548.3L174.2 1547.4L174.7 1549.6L175.3 1548.8L175.8 1548.3L176.4 1547.6L176.9 1548.6L177.5 1549.8L178 1550L178.6 1550.5L179.1 1550.8L179.7 1550L180.2 1556.6L180.8 1577.7L181.3 1602.5L181.9 1636.6L182.4 1667.6L183 1695.1L183.5 1711.6L184 1718.1L184.1 1715.8L184.6 1706.4L185.2 1696.2L185.7 1684.9L186.3 1676.7L186.8 1666.2L187.4 1661.1L187.9 1653.7L188.5 1648.6L189 1641.8L189.6 1636.7L190.1 1629.5L190.7 1626.7L191.2 1622.4L191.8 1615L192.3 1610.9L192.9 1607L193.4 1603.9L194 1601.3L194.5 1599.5L195.1 1594L195.6 1590.9L196.2 1588.8L196.7 1588.9L197.3 1584.5L197.8 1587.1L198.4 1580.5L198.9 1580.9L199.5 1577.1L200 1576.6L200.6 1573.8L201.1 1572L201.7 1570.6L202.2 1569.8L202.8 1568.6L203.3 1567.3L203.9 1564.2L204.4 1565.9L205 1561.3L205.5 1562.4L206.1 1560.6L206.6 1558.9L207.2 1559.6L207.7 1558.6L208.3 1558L208.8 1559.4L209.4 1554.5L209.9 1554.8L210.5 1555.3L211 1553.2L211.6 1552.5L212.1 1552L212.7 1552.9L213.2 1552.6L213.8 1552.3L214.3 1552.4L214.9 1553.7L215.4 1551.4L216 1553.1L216.5 1551.6L217.1 1550.3L217.6 1549.7L218.2 1548.6L218.7 1551.7L219.3 1550.1L219.8 1549.5L220.4 1550.5L220.9 1552.2L221.5 1549.6L222 1550.2L222.6 1554.1L223.1 1550.1L223.7 1548.8L224.2 1549.9L224.8 1551.5L225.3 1549.7L225.9 1548.7L226.4 1549L227 1550.6L227.5 1549.3L228.1 1549.9L228.6 1549.4L229.2 1550.3L229.7 1550.3L230.3 1549.5L230.8 1547L231.4 1550.7L231.9 1549.5L232.5 1549.1L233 1549.5L233.6 1549.4L234.1 1550.6L234.7 1551L235.2 1548.7L235.8 1549.6L236.3 1550.3L236.9 1549L237.4 1548.4L238 1550.7L238.5 1550.8L239.1 1550.2L239.6 1547.7L240.2 1549.3L240.7 1548.8L241.3 1549.8L241.8 1547.4L242.4 1547.1L242.9 1549L243.5 1548.9L244 1548.4L244.6 1549.5L245.1 1545.7L245.7 1548.2L246.2 1549.9L246.8 1549L247.3 1549.6L247.9 1549.5L248.4 1549.8L249 1549.7L249.5 1548.1L250.1 1550.2L250.6 1549.5L251.2 1548.7L251.7 1546.6L252.3 1548.2L252.8 1548.3L253.4 1545.9L253.9 1547.6L254.5 1546.9L255 1546.5L255.6 1547.1L256.1 1547.7L256.7 1547.8L257.2 1548.3L257.8 1550.4L258.3 1549.2L258.9 1547.2L259.4 1548.4L260 1549.2L260.5 1548.6L261.1 1547.4L261.6 1547.9L262.2 1544.7L262.7 1547.2L263.3 1550.2L263.8 1549.1L264.4 1547.5L264.9 1547.8L265.5 1547.3L266 1548.7L266.6 1548.8L267.1 1549.8L267.7 1548.4L268.2 1549.9L268.8 1546.8L269.3 1549.3" fill="none" stroke="#b3b3b3" stroke-width="4" stroke-linejoin="round" stroke-linecap="round"/>
<path d="M317.8 1548.6L318.4 1547.8L318.9 1547.9L319.5 1550.8L320 1551.2L320.6 1549.6L321.1 1547.3L321.7 1548.1L322.2 1547.3L322.8 1548.5L323.3 1548.6L323.9 1549.9L324.4 1549.4L325 1549.4L325.5 1550.9L326.1 1547.4L326.6 1549.7L327.2 1550.7L327.7 1550.6L328.3 1549.5L328.8 1548.5L329.4 1549.8L329.9 1549.7L330.5 1549.9L331 1550.1L331.6 1548.1L332.1 1550.2L332.7 1551.9L333.2 1550L333.8 1550.2L334.3 1551.7L334.9 1553.3L335.4 1548.9L336 1548.6L336.5 1550.7L337.1 1550.7L337.6 1551.6L338.2 1550.2L338.7 1550.8L339.3 1548.1L339.8 1550.9L340.4 1548L340.9 1550.4L341.5 1548.2L342 1549L342.6 1547.2L343.1 1550.2L343.7 1545.3L344.2 1550.5L344.8 1547.2L345.3 1550.3L345.9 1549.9L346.4 1550.3L347 1550.5L347.5 1548.3L348.1 1547.4L348.6 1548.2L349.2 1548L349.7 1549.4L350.3 1551.4L350.8 1548.3L351.4 1550.6L351.9 1548.6L352.5 1549.8L353 1550.5L353.6 1550.4L354.1 1548.6L354.7 1547.9L355.2 1548.4L355.8 1547.4L356.3 1550L356.9 1549.6L357.4 1549L358 1547.3L358.5 1547.6L359.1 1550.4L359.6 1549.4L360.2 1550L360.7 1548.3L361.3 1550.6L361.8 1547.8L362.4 1547.8L362.9 1549.8L363.5 1548.1L364 1547.1L364.6 1548.6L365.1 1550.5L365.7 1548.6L366.2 1548.1L366.8 1548.2L367.3 1549.7L367.9 1549.6L368.4 1550.8L369 1550.2L369.5 1548.3L370.1 1551.6L370.6 1549.8L371.2 1550.7L371.7 1549L372.3 1549.4L372.8 1549.3L373.4 1551.9L373.9 1551.9L374.5 1550.7L375 1550.5L375.6 1548.9L376.1 1547.7L376.7 1550.5L377.2 1549.3L377.8 1559.6L378.3 1583.4L378.9 1624.8L379.4 1663.8L380 1709.8L380.5 1740.9L381.1 1762.7L381.4 1765.6L381.6 1759.9L382.2 1744.4L382.7 1729.8L383.3 1718.3L383.8 1706.8L384.4 1694.1L384.9 1682.5L385.5 1673.9L386 1664.3L386.6 1658.5L387.1 1647.2L387.7 1641.9L388.2 1636.3L388.8 1633L389.3 1623.9L389.9 1617.4L390.4 1610.2L391 1607.7L391.5 1602.1L392.1 1599.6L392.6 1593L393.2 1591.9L393.7 1586.5L394.3 1583.6L394.8 1583.2L395.4 1580.1L395.9 1576.8L396.5 1577.1L397 1574.8L397.6 1573.3L398.1 1571.1L398.7 1569.3L399.2 1569.5L399.8 1566.7L400.3 1564L400.9 1563.5L401.4 1561.8L402 1564.2L402.5 1562.8L403.1 1560.1L403.6 1559.6L404.2 1559L404.7 1559.2L405.3 1560L405.8 1559.4L406.4 1555.3L406.9 1557L407.5 1555.7L408 1555.9L408.6 1557.1L409.1 1556.6L409.7 1556.1L410.2 1554.2L410.8 1553.7L411.3 1556.2L411.9 1556.4L412.4 1555L413 1556.4L413.5 1554.3L414.1 1557.4L414.6 1553.1L415.2 1552.8L415.7 1552.8L416.3 1553.1L416.8 1553.1L417.4 1555.5L417.9 1554.7L418.5 1553.8L419 1555.1L419.6 1551.2L420.1 1552L420.7 1552.1L421.2 1550.3L421.8 1551.1L422.3 1552.8L422.9 1550.9L423.4 1551.3L424 1553.2L424.5 1551.2L425.1 1553.1L425.6 1556L426.2 1552.1L426.7 1550.9L427.3 1552.8L427.8 1554L428.4 1550.6L428.9 1551.3L429.5 1553.5L430 1552.1L430.6 1550.9L431.1 1551.7L431.7 1550.7L432.2 1550.1L432.8 1550.4L433.3 1551.9L433.9 1552.8L434.4 1552L435 1549.9L435.5 1552.1L436.1 1552.5L436.6 1550.3L437.2 1550L437.7 1552L438.3 1550.7L438.8 1549.3L439.4 1552.1L439.9 1551.8L440.5 1553.6L441 1553.3L441.6 1551.9L442.1 1552.5L442.7 1551.2L443.2 1552.5L443.8 1552.7L444.3 1551.8L444.9 1552L445.4 1560.4L446 1576.3L446.5 1593.2L447.1 1607.3L447.6 1615.4L448 1617.7L448.2 1615.8L448.7 1613.3L449.3 1605.7L449.8 1604L450.4 1597.7L450.9 1594.4L451.5 1593.6L452 1587.3L452.6 1584.8L453.1 1582.5L453.7 1583L454.2 1577.9L454.8 1577.7L455.3 1574.7L455.9 1575.7L456.4 1574.5L457 1570.8L457.5 1570.2L458.1 1569.3L458.6 1567.8L459.2 1568.4L459.7 1563.4L460.3 1563.4L460.8 1562.6L461.4 1565.6L461.9 1561.9L462.5 1559.4L463 1558.4L463.6 1559.3L464.1 1557.3L464.7 1559.4L465.2 1559.8L465.8 1556.6L466.3 1558.4L466.9 1557.9L467.4 1557.1L468 1558.3L468.5 1557L469.1 1556.1L469.6 1556.1L470.2 1555.2L470.7 1555L471.3 1554.5L471.8 1554.5L472.4 1556.4L472.9 1552.6L473.5 1553.9L474 1554.7L474.6 1553.4L475.1 1550.8L475.7 1554.1L476.2 1551.1L476.8 1555.7L477.3 1554.9L477.9 1554L478.4 1556.2L479 1553.2L479.5 1556.2L480.1 1553.9L480.6 1552.1L481.2 1551.8L481.7 1553.8L482.3 1554.5L482.8 1553.3L483.4 1553.2L483.9 1552L484.5 1554L485 1552.3L485.6 1553.8L486.1 1553.5L486.7 1552.7L487.2 1553.3L487.8 1555.7L488.3 1554.4L488.9 1553.6L489.4 1554.5L490 1552.1L490.5 1554.1L491.1 1553.1L491.6 1555.3L492.2 1552.9L492.7 1552.9L493.3 1552.5L493.8 1553.5L494.4 1552.4L494.9 1552.2L495.5 1552.8L496 1554.4L496.6 1553.2L497.1 1554.3L497.7 1553L498.2 1552.3L498.8 1553.3L499.3 1552.6L499.9 1551.5L500.4 1552.2L501 1552.4L501.5 1551.3L502.1 1551.7L502.6 1552.4L503.2 1555.8L503.7 1550.8L504.3 1552.3L504.8 1554.2L505.4 1553.5L505.9 1553.2L506.5 1548.4L507 1553.9L507.6 1553.1L508.1 1551.4L508.7 1552.8L509.2 1552.5L509.8 1552.1L510.3 1553.9L510.9 1554.1L511.4 1553.3L512 1554.1L512.5 1554.6L513.1 1554.1L513.6 1552.4L514.2 1552.2L514.7 1551.6L515.3 1553.5L515.8 1552.5L516.4 1553.6L516.9 1554.8L517.5 1552.3L518 1554.6L518.6 1551.4L519.1 1553.3L519.7 1555.1L520.2 1553.8L520.8 1553.2L521.3 1554.3L521.9 1552.1L522.4 1552.7L523 1555.2L523.5 1555.7L524.1 1552.6L524.6 1554.5L525.2 1553.1L525.7 1553.6L526.3 1552.5L526.8 1552.3L527.4 1552.7L527.9 1554.8L528.5 1554.1L529 1554.6L529.6 1554.5L530.1 1554L530.7 1553.7L531.2 1552L531.8 1554.7" fill="none" stroke="#bf4a58" stroke-width="4" stroke-linejoin="round" stroke-linecap="round"/>
<path d="M622 1546L622.5 1541.6L623.1 1544.9L623.6 1544.4L624.2 1545.7L624.7 1545.3L625.3 1545.2L625.8 1543.3L626.4 1546L626.9 1546.5L627.5 1544.6L628 1546.5L628.6 1547.2L629.1 1543.6L629.7 1543.8L630.2 1544.8L630.8 1545.3L631.3 1547.1L631.9 1545.8L632.4 1544.9L633 1545.2L633.5 1547.8L634.1 1547.7L634.6 1545.4L635.2 1545.8L635.7 1549.4L636.3 1549.5L636.8 1546.8L637.4 1548L637.9 1549.4L638.5 1547.2L639 1548.4L639.6 1547.6L640.1 1546.7L640.7 1546.3L641.2 1548.2L641.8 1547L642.3 1544.7L642.9 1548.3L643.4 1545.8L644 1547.5L644.5 1546.7L645.1 1549.2L645.6 1548.8L646.2 1549.5L646.7 1549L647.3 1546.8L647.8 1546.2L648.4 1549.2L648.9 1549.3L649.5 1546.1L650 1544.9L650.6 1546.2L651.1 1545.7L651.7 1544.6L652.2 1546.9L652.8 1544.5L653.3 1546.9L653.9 1546.3L654.4 1546.9L655 1544L655.5 1543.9L656.1 1544.6L656.6 1544.1L657.2 1544.1L657.7 1545.2L658.3 1544.4L658.8 1547.5L659.4 1547.8L659.9 1548.7L660.5 1546.5L661 1549.5L661.6 1548.4L662.1 1547.5L662.7 1549.1L663.2 1549L663.8 1547.4L664.3 1546L664.9 1547.4L665.4 1544.9L666 1547.4L666.5 1545.6L667.1 1547.9L667.6 1545.3L668.2 1543.6L668.7 1547.3L669.3 1546.2L669.8 1546.8L670.4 1545.2L670.9 1546.5L671.5 1545.9L672 1547.8L672.6 1546.1L673.1 1545.8L673.7 1546.5L674.2 1545L674.8 1546.6L675.3 1545.8L675.9 1548.2L676.4 1547.6L677 1548.8L677.5 1545.6L678.1 1547.1L678.6 1546.4L679.2 1547.7L679.7 1546.2L680.3 1548L680.8 1546.8L681.4 1549.1L681.9 1548L682.5 1548.1L683 1546.7L683.6 1549.4L684.1 1546.7L684.7 1547.3L685.2 1550.4L685.8 1548.6L686.3 1549.1L686.9 1547.7L687.4 1550.5L688 1549.7L688.5 1547.9L689.1 1549L689.6 1549.8L690.2 1549.5L690.7 1549.5L691.3 1548.9L691.8 1549.9L692.4 1545.8L692.9 1549.4L693.5 1548.7L694 1549.1L694.6 1547.9L695.1 1548.7L695.7 1547.4L696.2 1549.8L696.8 1546.4L697.3 1547.7L697.9 1550L698.4 1551.1L699 1571L699.5 1601.3L700.1 1645L700.6 1690.6L701.2 1735.5L701.7 1771.4L702.3 1787.7L702.6 1792.9L702.8 1788.1L703.4 1779.4L703.9 1773.2L704.5 1762.6L705 1757.1L705.6 1747.7L706.1 1741.9L706.7 1738.3L707.2 1731.5L707.8 1724.8L708.3 1719.8L708.9 1712.5L709.4 1705.7L710 1704L710.5 1697.7L711.1 1694.8L711.6 1689.1L712.2 1683.5L712.7 1680.1L713.3 1674.9L713.8 1673.3L714.4 1667.3L714.9 1665.8L715.5 1659.7L716 1656.8L716.6 1652.6L717.1 1651.3L717.7 1646.6L718.2 1645.1L718.8 1643.2L719.3 1641.4L719.9 1637.7L720.4 1635.2L721 1633.6L721.5 1631.3L722.1 1630.1L722.6 1626.5L723.2 1622.6L723.7 1621.9L724.3 1620.9L724.8 1618.9L725.4 1617.1L725.9 1613L726.5 1610.8L727 1609.7L727.6 1609.6L728.1 1606L728.7 1607L729.2 1605.2L729.8 1605.9L730.3 1605L730.9 1600.3L731.4 1601.4L732 1598.2L732.5 1601.2L733.1 1596.8L733.6 1597.6L734.2 1596.3L734.7 1595.5L735.3 1593L735.8 1590.7L736.4 1589.2L736.9 1588.5L737.5 1588L738 1588.5L738.6 1588.5L739.1 1585.3L739.7 1584.4L740.2 1583.6L740.8 1583.6L741.3 1584.1L741.9 1581.7L742.4 1582.2L743 1580.7L743.5 1579L744.1 1581.3L744.6 1580.6L745.2 1578.9L745.7 1577.5L746.3 1577.4L746.8 1576.7L747.4 1576.6L747.9 1573.2L748.5 1573.3L749 1573.7L749.6 1573.4L750.1 1574.1L750.7 1573.9L751.2 1571.5L751.8 1573.8L752.3 1572.4L752.9 1572.5L753.4 1568.9L754 1570.3L754.5 1568.6L755.1 1568.7L755.6 1567.5L756.2 1568.5L756.7 1568.3L757.3 1567.4L757.8 1567.5L758.4 1565.7L758.9 1565.5L759.5 1565.7L760 1566.4L760.6 1564.3L761.1 1566.8L761.7 1564.3L762.2 1564.9L762.8 1564.4L763.3 1560.1L763.9 1563.6L764.4 1561.4L765 1562.2L765.5 1561.4L766.1 1561.4L766.6 1563.1L767.2 1560.4L767.7 1562.9L768.3 1559.7L768.8 1558.9L769.4 1561.3L769.9 1561.1L770.5 1561.3L771 1560.7L771.6 1560.8L772.1 1558.2L772.7 1559L773.2 1555.4L773.8 1559.6L774.3 1558.5L774.9 1563.2L775.4 1559.9L776 1561.3L776.5 1560.3L777.1 1557.5L777.6 1561.2L778.2 1558L778.7 1556.8L779.3 1560.2L779.8 1560.2L780.4 1556.7L780.9 1558L781.5 1558.9L782 1556.4L782.6 1559.4L783.1 1557.4L783.7 1557.3L784.2 1558.4L784.8 1556.4L785.3 1555.3L785.9 1555.5L786.4 1556.7L787 1555.8L787.5 1555.7L788.1 1555.2L788.6 1556.6L789.2 1557.1L789.7 1554.8L790.3 1556L790.8 1557.3L791.4 1555.3L791.9 1555.4L792.5 1554.7L793 1555.8L793.6 1556.8L794.1 1556.2L794.7 1556.9L795.2 1553.3L795.8 1553.2L796.3 1554.9L796.9 1552.5L797.4 1551.5L798 1552.6L798.5 1555.4L799.1 1554L799.6 1552L800.2 1551.6L800.7 1553.5L801.3 1551.2L801.8 1553.7L802.4 1552L802.9 1553L803.5 1553.2L804 1552.8L804.6 1554L805.1 1554.6L805.7 1554.7L806.2 1554.5L806.8 1552.9L807.3 1553.9L807.9 1555.7L808.4 1554.7L809 1552.9L809.5 1553.6L810.1 1554.1L810.6 1552.2L811.2 1553.8L811.7 1554L812.3 1550.7L812.8 1550.6L813.4 1553.3L813.9 1552.6L814.5 1551.8L815 1554.5L815.6 1554L816.1 1552.7L816.7 1552.1L817.2 1554.1L817.8 1553.9L818.3 1553.3L818.9 1552.2L819.4 1554.3L820 1550.4L820.5 1550.8L821.1 1551.7L821.6 1553.1L822.2 1549.8L822.7 1554.5L823.3 1549.9L823.8 1553.3L824.4 1550.6L824.9 1554.2L825.5 1551.7L826 1554.8L826.6 1553.9L827.1 1551.8L827.7 1554.5L828.2 1551.8L828.8 1554.6L829.3 1563.2L829.9 1586.6L830.4 1617.2L831 1650.9L831.5 1682.8L832.1 1707.5L832.6 1719.3L833 1722.9L833.2 1718.2L833.7 1711.3L834.3 1702.3L834.8 1694.4L835.4 1688.8L835.9 1681.8L836.5 1674.6L837 1667.7L837.6 1663.1L838.1 1656.8L838.7 1651.3L839.2 1647.3L839.8 1644.4L840.3 1637.6L840.9 1635.8L841.4 1630L842 1629.8L842.5 1626.5L843.1 1621.2L843.6 1617.5L844.2 1614.3L844.7 1614L845.3 1609.5L845.8 1609.9L846.4 1605L846.9 1604.8L847.5 1601.7L848 1600.2L848.6 1597.9L849.1 1595.7L849.7 1593.6L850.2 1595.4L850.8 1591.3L851.3 1591.9L851.9 1588.2L852.4 1588.3L853 1587.2L853.5 1585.2L854.1 1582L854.6 1582.9L855.2 1580.8L855.7 1578.5L856.3 1577.8L856.8 1579L857.4 1575.7L857.9 1574.2L858.5 1573.3L859 1575.9L859.6 1573L860.1 1574.5L860.7 1572.4L861.2 1571.2L861.8 1571.4L862.3 1571.8L862.9 1569.2L863.4 1565.9L864 1568.9L864.5 1566.6L865.1 1566.9L865.6 1567.7L866.2 1565.8L866.7 1566.3L867.3 1565L867.8 1564.6L868.4 1566.5L868.9 1565.4L869.5 1564.9L870 1562.7L870.6 1560.9L871.1 1561.5L871.7 1561.3L872.2 1560L872.8 1561.6L873.3 1560.6L873.9 1559.7L874.4 1558.9L875 1559.5L875.5 1558.1L876.1 1560.4L876.6 1557.4L877.2 1557.5L877.7 1556.9L878.3 1557.1L878.8 1557.9L879.4 1557.7L879.9 1557.4L880.5 1556.7L881 1556.2L881.6 1557.4L882.1 1557.9L882.7 1560.4L883.2 1555.8L883.8 1555.5L884.3 1557L884.9 1556.5L885.4 1557.6L886 1557.8L886.5 1557L887.1 1557.1L887.6 1557.5L888.2 1557.9L888.7 1558.2L889.3 1558L889.8 1557.4L890.4 1557.5L890.9 1554.9L891.5 1557.8L892 1556.5L892.6 1557.5L893.1 1557.8L893.7 1554.5L894.2 1554.5L894.8 1555.5L895.3 1558L895.9 1556L896.4 1555.7L897 1555.9L897.5 1555.7L898.1 1554.6L898.6 1554.7L899.2 1554.4L899.7 1555.1L900.3 1554.4L900.8 1553.4L901.4 1554.3L901.9 1555.1L902.5 1552.1L903 1555.2L903.6 1555.1L904.1 1552.1L904.7 1553.3L905.2 1553.9L905.8 1553.8L906.3 1553.2L906.9 1555.8L907.4 1553.4L908 1556.4L908.5 1554.6L909.1 1554L909.6 1556.8L910.2 1553.8L910.7 1554.5L911.3 1548.9L911.8 1554.3L912.4 1552.1L912.9 1551.6L913.5 1551.4L914 1552.9L914.6 1553.1L915.1 1555.2L915.7 1553L916.2 1552.7L916.8 1555.5L917.3 1554.2L917.9 1556.8L918.4 1555.1L919 1553.5L919.5 1553.9L920.1 1555.5L920.6 1554.7L921.2 1555.8L921.7 1556L922.3 1555.5" fill="none" stroke="#b3b3b3" stroke-width="4" stroke-linejoin="round" stroke-linecap="round"/>
<path d="M972.4 1548.6L972.9 1545.2L973.5 1545.6L974 1547.1L974.6 1549.3L975.1 1546L975.7 1547.5L976.2 1545.9L976.8 1545.5L977.3 1548.6L977.9 1547.6L978.4 1546.2L979 1547.5L979.5 1545.8L980.1 1546.1L980.6 1545.6L981.2 1548.4L981.7 1548.9L982.3 1550.2L982.8 1545.8L983.4 1546L983.9 1548.4L984.5 1550.2L985 1545.5L985.6 1547.5L986.1 1542.1L986.7 1546L987.2 1546.4L987.8 1547.4L988.3 1548.2L988.9 1545.2L989.4 1547.9L990 1546.5L990.5 1545.7L991.1 1545.2L991.6 1545.7L992.2 1546.7L992.7 1544.8L993.3 1546.5L993.8 1545.7L994.4 1546.5L994.9 1547.4L995.5 1546.5L996 1545.6L996.6 1547.8L997.1 1547L997.7 1547.6L998.2 1546.1L998.8 1546.7L999.3 1546.7L999.9 1546.5L1000.4 1546.9L1001 1548.3L1001.5 1547.6L1002.1 1546.6L1002.6 1548.4L1003.2 1547.6L1003.7 1546.1L1004.3 1545.9L1004.8 1545.8L1005.4 1545.4L1005.9 1546.2L1006.5 1546.5L1007 1549L1007.6 1547.4L1008.1 1547.8L1008.7 1547.3L1009.2 1546.4L1009.8 1548.9L1010.3 1548.6L1010.9 1548L1011.4 1548.7L1012 1549.9L1012.5 1546.6L1013.1 1547.9L1013.6 1547.1L1014.2 1547.2L1014.7 1547.2L1015.3 1546.8L1015.8 1548.1L1016.4 1544.2L1016.9 1546.7L1017.5 1544.2L1018 1546L1018.6 1546.9L1019.1 1546.6L1019.7 1547.3L1020.2 1544.1L1020.8 1544.8L1021.3 1544.8L1021.9 1547L1022.4 1544.6L1023 1547.5L1023.5 1546.2L1024.1 1546.9L1024.6 1547.4L1025.2 1547.6L1025.7 1547.9L1026.3 1545.4L1026.8 1547.3L1027.4 1546.5L1027.9 1547.9L1028.5 1549L1029 1548L1029.6 1547.6L1030.1 1547.1L1030.7 1547.9L1031.2 1545.9L1031.8 1545.8L1032.3 1544.8L1032.9 1546.6L1033.4 1545.9L1034 1548L1034.5 1547L1035.1 1549.1L1035.6 1548.1L1036.2 1546.1L1036.7 1549.9L1037.3 1550.5L1037.8 1546.9L1038.4 1548.4L1038.9 1551.2L1039.5 1549L1040 1549.1L1040.6 1547.8L1041.1 1548.3L1041.7 1546.9L1042.2 1545.5L1042.8 1545L1043.3 1546.6L1043.9 1546.5L1044.4 1548.5L1045 1548.1L1045.5 1549.3L1046.1 1547.8L1046.6 1548.4L1047.2 1548.5L1047.7 1549.5L1048.3 1547.6L1048.8 1549L1049.4 1547.2L1049.9 1548.9L1050.5 1546.8L1051 1554.9L1051.6 1606.3L1052.1 1690.5L1052.7 1760.6L1053.2 1785.9L1053.2 1785.1L1053.8 1778L1054.3 1768.7L1054.9 1759.6L1055.4 1753.7L1056 1747.3L1056.5 1740.6L1057.1 1736.1L1057.6 1730.1L1058.2 1722.4L1058.7 1720.1L1059.3 1714.8L1059.8 1707.9L1060.4 1705.2L1060.9 1699.1L1061.5 1696.2L1062 1692.6L1062.6 1685.7L1063.1 1681L1063.7 1678.3L1064.2 1675L1064.8 1672L1065.3 1667L1065.9 1663.9L1066.4 1660.1L1067 1657.2L1067.5 1653.8L1068.1 1652.7L1068.6 1647.6L1069.2 1646.2L1069.7 1642.4L1070.3 1639.4L1070.8 1639.4L1071.4 1637L1071.9 1632.7L1072.5 1631L1073 1629.2L1073.6 1626L1074.1 1626.6L1074.7 1624.7L1075.2 1623L1075.8 1618.4L1076.3 1619.3L1076.9 1617.9L1077.4 1614.4L1078 1615L1078.5 1610.8L1079.1 1608.9L1079.6 1608.2L1080.2 1608.6L1080.7 1605.2L1081.3 1605.7L1081.8 1605.3L1082.4 1602.6L1082.9 1603L1083.5 1600.4L1084 1599.3L1084.6 1599.9L1085.1 1596.5L1085.7 1597.7L1086.2 1595.7L1086.8 1593.6L1087.3 1595.1L1087.9 1592.7L1088.4 1593.9L1089 1591.7L1089.5 1588.6L1090.1 1588.7L1090.6 1588.6L1091.2 1587.3L1091.7 1584.8L1092.3 1585.7L1092.8 1583.5L1093.4 1584.7L1093.9 1583.9L1094.5 1582.6L1095 1582.5L1095.6 1579.8L1096.1 1578.9L1096.7 1580.3L1097.2 1579.3L1097.8 1580.4L1098.3 1578.5L1098.9 1576.4L1099.4 1579L1100 1575.6L1100.5 1575.1L1101.1 1576.4L1101.6 1575.4L1102.2 1574.4L1102.7 1572.3L1103.3 1571.9L1103.8 1574.5L1104.4 1572.1L1104.9 1572.5L1105.5 1569L1106 1575.2L1106.6 1571.5L1107.1 1571L1107.7 1568.5L1108.2 1569L1108.8 1571.4L1109.3 1567.7L1109.9 1570.1L1110.4 1569.3L1111 1570.2L1111.5 1568.3L1112.1 1569.4L1112.6 1569L1113.2 1568.5L1113.7 1567.6L1114.3 1563L1114.8 1564.6L1115.4 1567.3L1115.9 1564.4L1116.5 1566.3L1117 1564.5L1117.6 1562L1118.1 1564.2L1118.7 1562.9L1119.2 1561.7L1119.8 1562.4L1120.3 1565.5L1120.9 1565L1121.4 1564.4L1122 1563.3L1122.5 1562L1123.1 1562.4L1123.6 1564.6L1124.2 1564.4L1124.7 1564.5L1125.3 1563.7L1125.8 1561.8L1126.4 1562L1126.9 1560.8L1127.5 1561.8L1128 1562.3L1128.6 1563.8L1129.1 1563.4L1129.7 1561.6L1130.2 1560.1L1130.8 1560.9L1131.3 1562.3L1131.9 1561.3L1132.4 1559L1133 1558.5L1133.5 1561.8L1134.1 1558.4L1134.6 1557.8L1135.2 1558.2L1135.7 1559.5L1136.3 1556.9L1136.8 1558.9L1137.4 1558.1L1137.9 1560.4L1138.5 1559.6L1139 1556.7L1139.6 1557L1140.1 1559.3L1140.7 1557L1141.2 1557.8L1141.8 1557.4L1142.3 1557.7L1142.9 1555L1143.4 1556L1144 1556.7L1144.5 1555.8L1145.1 1555.3L1145.6 1556.7L1146.2 1554.7L1146.7 1554.6L1147.3 1553.6L1147.8 1554.4L1148.4 1555.2L1148.9 1553.9L1149.5 1555.7L1150 1553.5L1150.6 1554.3L1151.1 1554.8L1151.7 1553L1152.2 1556.1L1152.8 1552.5L1153.3 1554.1L1153.9 1556.2L1154.4 1554.4L1155 1556L1155.5 1553.1L1156.1 1556.6L1156.6 1557.1L1157.2 1553.2L1157.7 1554L1158.3 1556.6L1158.8 1556.9L1159.4 1554.5L1159.9 1554.6L1160.5 1556.1L1161 1556.2L1161.6 1554.5L1162.1 1554.9L1162.7 1555.7L1163.2 1555.3L1163.8 1552.5L1164.3 1555.7L1164.9 1556.4L1165.4 1555L1166 1554.5L1166.5 1556.5L1167.1 1555.8L1167.6 1553L1168.2 1555.8L1168.7 1556.4L1169.3 1553.5L1169.8 1555.1L1170.4 1554.9L1170.9 1552.2L1171.5 1552.8L1172 1551.8L1172.6 1553L1173.1 1553.3L1173.7 1554.1L1174.2 1549L1174.8 1551.9L1175.3 1553.3L1175.9 1553.6L1176.4 1554.9L1177 1554.1L1177.5 1552.9L1178.1 1554.9L1178.6 1554.9L1179.2 1552.5L1179.7 1553L1180.3 1555.7L1180.8 1555.3L1181.4 1555.9L1181.9 1571.4L1182.5 1584.7L1183 1601.2L1183.6 1614.4L1184.1 1622.7L1184.7 1627.1L1184.8 1626.8L1185.2 1624.2L1185.8 1622.1L1186.3 1618.8L1186.9 1617.8L1187.4 1615.3L1188 1617.3L1188.5 1610.7L1189.1 1609.3L1189.6 1609.1L1190.2 1605.5L1190.7 1604L1191.3 1603.2L1191.8 1601.1L1192.4 1601.6L1192.9 1600.2L1193.5 1597.2L1194 1596.8L1194.6 1595.3L1195.1 1592.9L1195.7 1591.5L1196.2 1589.1L1196.8 1589.3L1197.3 1590.2L1197.9 1585L1198.4 1581.3L1199 1583.5L1199.5 1583.1L1200.1 1584.6L1200.6 1580.5L1201.2 1580.8L1201.7 1580.5L1202.3 1580.9L1202.8 1581.1L1203.4 1579.1L1203.9 1578.4L1204.5 1578.8L1205 1575.5L1205.6 1577L1206.1 1574.1L1206.7 1573.4L1207.2 1575.7L1207.8 1572.2L1208.3 1575.5L1208.9 1572.6L1209.4 1573.9L1210 1571.8L1210.5 1573.9L1211.1 1571.4L1211.6 1572.1L1212.2 1570.7L1212.7 1570L1213.3 1571.1L1213.8 1570.4L1214.4 1570.2L1214.9 1570.2L1215.5 1567.5L1216 1567.6L1216.6 1566.3L1217.1 1564.8L1217.7 1567.4L1218.2 1566.7L1218.8 1564.1L1219.3 1566.3L1219.9 1565.2L1220.4 1564.6L1221 1564.2L1221.5 1564.8L1222.1 1564.7L1222.6 1564.1L1223.2 1564.8L1223.7 1564.3L1224.3 1562.7L1224.8 1563.7L1225.4 1564.6L1225.9 1563.7L1226.5 1564.2L1227 1564.3L1227.6 1561.7L1228.1 1564.3L1228.7 1561.5L1229.2 1562.2L1229.8 1561.7L1230.3 1563.1L1230.9 1562.7L1231.4 1559.4L1232 1559.9L1232.5 1560.4L1233.1 1559.2L1233.6 1559.4L1234.2 1559.7L1234.7 1561.5L1235.3 1557.6L1235.8 1559.4L1236.4 1560.5L1236.9 1558.7L1237.5 1558.6L1238 1560.1L1238.6 1558.3L1239.1 1557.8L1239.7 1559.6L1240.2 1559.9L1240.8 1558L1241.3 1556.9L1241.9 1558.9L1242.4 1557.4L1243 1556.3L1243.5 1557.8L1244.1 1557.8L1244.6 1555.4L1245.2 1557.6L1245.7 1557.5L1246.3 1556.5L1246.8 1556.8L1247.4 1558.3L1247.9 1555.5L1248.5 1557.4L1249 1557.9L1249.6 1558.8L1250.1 1559.4L1250.7 1558.8L1251.2 1555.5L1251.8 1557L1252.3 1558.6L1252.9 1558.5L1253.4 1556.1L1254 1554.2L1254.5 1557.3L1255.1 1554.7L1255.6 1555.5L1256.2 1556.1L1256.7 1555.5L1257.3 1554.2L1257.8 1555L1258.4 1554.8L1258.9 1554.2L1259.5 1556.6L1260 1557.3L1260.6 1554.3L1261.1 1557.9L1261.7 1555.4L1262.2 1557.8L1262.8 1557.7L1263.3 1557.5L1263.9 1556L1264.4 1555.1L1265 1557.2L1265.5 1557.1L1266.1 1556L1266.6 1553.8L1267.2 1554.3L1267.7 1555.7L1268.3 1555.6L1268.8 1554.8L1269.4 1556.2L1269.9 1555.6L1270.5 1553.2L1271 1554.6L1271.6 1554.1L1272.1 1554.6L1272.7 1554.5L1273.2 1553.7L1273.8 1552.7" fill="none" stroke="#bf4a58" stroke-width="4" stroke-linejoin="round" stroke-linecap="round"/>
<path d="M1154.8 1759.1 H1282.4 V1644.6" fill="none" stroke="#000" stroke-width="4.3" stroke-linejoin="miter"/>
<text x="1299.6" y="1674.4" font-size="25" transform="rotate(90 1299.6 1674.4)">50 pA</text>
<text x="1179.5" y="1791.4" font-size="25">100 ms</text>
</g>
<g id="pk">
<rect x="1604.7" y="1593.7" width="42.4" height="124.7" fill="#b3b3b3"/>
<rect x="1668.8" y="1652.9" width="42.7" height="65.5" fill="#d0505e"/>
<rect x="1775.3" y="1592.3" width="42.6" height="126.1" fill="#b3b3b3"/>
<rect x="1839.1" y="1641.6" width="42.6" height="76.8" fill="#d0505e"/>
<circle cx="1610" cy="1525.3" r="5" fill="#b3b3b3" stroke="#000" stroke-width="1.2"/>
<circle cx="1610" cy="1545.6" r="5" fill="#b3b3b3" stroke="#000" stroke-width="1.2"/>
<circle cx="1641.9" cy="1535.4" r="5" fill="#b3b3b3" stroke="#000" stroke-width="1.2"/>
<circle cx="1625.9" cy="1569.1" r="5" fill="#b3b3b3" stroke="#000" stroke-width="1.2"/>
<circle cx="1625.9" cy="1628.2" r="5" fill="#b3b3b3" stroke="#000" stroke-width="1.2"/>
<circle cx="1610" cy="1641.3" r="5" fill="#b3b3b3" stroke="#000" stroke-width="1.2"/>
<circle cx="1610" cy="1654.4" r="5" fill="#b3b3b3" stroke="#000" stroke-width="1.2"/>
<circle cx="1641.9" cy="1647.1" r="5" fill="#b3b3b3" stroke="#000" stroke-width="1.2"/>
<circle cx="1681.9" cy="1600.1" r="5" fill="#d0505e" stroke="#000" stroke-width="1.2"/>
<circle cx="1697.8" cy="1593.4" r="5" fill="#d0505e" stroke="#000" stroke-width="1.2"/>
<circle cx="1689.7" cy="1630" r="5" fill="#d0505e" stroke="#000" stroke-width="1.2"/>
<circle cx="1689.7" cy="1647.1" r="5" fill="#d0505e" stroke="#000" stroke-width="1.2"/>
<circle cx="1674.4" cy="1653.8" r="5" fill="#d0505e" stroke="#000" stroke-width="1.2"/>
<circle cx="1705.7" cy="1650.9" r="5" fill="#d0505e" stroke="#000" stroke-width="1.2"/>
<circle cx="1689.7" cy="1659" r="5" fill="#d0505e" stroke="#000" stroke-width="1.2"/>
<circle cx="1674.4" cy="1679.9" r="5" fill="#d0505e" stroke="#000" stroke-width="1.2"/>
<circle cx="1674.4" cy="1690.9" r="5" fill="#d0505e" stroke="#000" stroke-width="1.2"/>
<circle cx="1689.7" cy="1686.5" r="5" fill="#d0505e" stroke="#000" stroke-width="1.2"/>
<circle cx="1705.7" cy="1689.4" r="5" fill="#d0505e" stroke="#000" stroke-width="1.2"/>
<circle cx="1780.5" cy="1524.1" r="5" fill="#b3b3b3" stroke="#000" stroke-width="1.2"/>
<circle cx="1796.5" cy="1518.9" r="5" fill="#b3b3b3" stroke="#000" stroke-width="1.2"/>
<circle cx="1812.4" cy="1518.9" r="5" fill="#b3b3b3" stroke="#000" stroke-width="1.2"/>
<circle cx="1796.5" cy="1536.9" r="5" fill="#b3b3b3" stroke="#000" stroke-width="1.2"/>
<circle cx="1780.5" cy="1577.8" r="5" fill="#b3b3b3" stroke="#000" stroke-width="1.2"/>
<circle cx="1796.5" cy="1581.8" r="5" fill="#b3b3b3" stroke="#000" stroke-width="1.2"/>
<circle cx="1796.5" cy="1611.7" r="5" fill="#b3b3b3" stroke="#000" stroke-width="1.2"/>
<circle cx="1780.5" cy="1629.1" r="5" fill="#b3b3b3" stroke="#000" stroke-width="1.2"/>
<circle cx="1812.4" cy="1631.4" r="5" fill="#b3b3b3" stroke="#000" stroke-width="1.2"/>
<circle cx="1796.5" cy="1637.2" r="5" fill="#b3b3b3" stroke="#000" stroke-width="1.2"/>
<circle cx="1796.5" cy="1663.1" r="5" fill="#b3b3b3" stroke="#000" stroke-width="1.2"/>
<circle cx="1796.5" cy="1678.4" r="5" fill="#b3b3b3" stroke="#000" stroke-width="1.2"/>
<circle cx="1844.9" cy="1573.1" r="5" fill="#d0505e" stroke="#000" stroke-width="1.2"/>
<circle cx="1876.8" cy="1567.6" r="5" fill="#d0505e" stroke="#000" stroke-width="1.2"/>
<circle cx="1844.9" cy="1601.6" r="5" fill="#d0505e" stroke="#000" stroke-width="1.2"/>
<circle cx="1876.8" cy="1603.9" r="5" fill="#d0505e" stroke="#000" stroke-width="1.2"/>
<circle cx="1876.8" cy="1632.9" r="5" fill="#d0505e" stroke="#000" stroke-width="1.2"/>
<circle cx="1844.9" cy="1643.6" r="5" fill="#d0505e" stroke="#000" stroke-width="1.2"/>
<circle cx="1860.3" cy="1654.6" r="5" fill="#d0505e" stroke="#000" stroke-width="1.2"/>
<circle cx="1860.3" cy="1666.8" r="5" fill="#d0505e" stroke="#000" stroke-width="1.2"/>
<circle cx="1844.9" cy="1681.9" r="5" fill="#d0505e" stroke="#000" stroke-width="1.2"/>
<circle cx="1876.8" cy="1681.9" r="5" fill="#d0505e" stroke="#000" stroke-width="1.2"/>
<circle cx="1876.8" cy="1692.3" r="5" fill="#d0505e" stroke="#000" stroke-width="1.2"/>
<circle cx="1844.9" cy="1703.1" r="5" fill="#d0505e" stroke="#000" stroke-width="1.2"/>
<line x1="1625.9" y1="1575.5" x2="1625.9" y2="1612.3" stroke="#000" stroke-width="4"/>
<line x1="1690.3" y1="1643" x2="1690.3" y2="1662.5" stroke="#000" stroke-width="4"/>
<line x1="1796.4" y1="1576.3" x2="1796.4" y2="1607.4" stroke="#000" stroke-width="4"/>
<line x1="1860.2" y1="1628.5" x2="1860.2" y2="1654.6" stroke="#000" stroke-width="4"/>
<path d="M1583.4 1445 V1721.2 M1575.2 1719.1 H1904.9" fill="none" stroke="#000" stroke-width="4.4"/>
<line x1="1575.2" y1="1663.9" x2="1583.4" y2="1663.9" stroke="#000" stroke-width="4.4"/>
<line x1="1575.2" y1="1609.4" x2="1583.4" y2="1609.4" stroke="#000" stroke-width="4.4"/>
<line x1="1575.2" y1="1554.8" x2="1583.4" y2="1554.8" stroke="#000" stroke-width="4.4"/>
<line x1="1575.2" y1="1500.3" x2="1583.4" y2="1500.3" stroke="#000" stroke-width="4.4"/>
<line x1="1575.2" y1="1445.8" x2="1583.4" y2="1445.8" stroke="#000" stroke-width="4.4"/>
<text x="1561.5" y="1727.9" font-size="25" text-anchor="end">0.0</text>
<text x="1561.5" y="1673.4" font-size="25" text-anchor="end">0.2</text>
<text x="1561.5" y="1618.9" font-size="25" text-anchor="end">0.4</text>
<text x="1561.5" y="1564.3" font-size="25" text-anchor="end">0.6</text>
<text x="1561.5" y="1509.8" font-size="25" text-anchor="end">0.8</text>
<text x="1561.5" y="1455.3" font-size="25" text-anchor="end">1.0</text>
<path d="M1626.2 1464.8 H1689.6 M1796.2 1464.8 H1858.5" fill="none" stroke="#000" stroke-width="3.6"/>
<text x="1647.1" y="1458.7" font-size="38" text-anchor="middle" font-weight="bold" transform="translate(1647.1 0) scale(0.92 1) translate(-1647.1 0)" style="font-family:'DejaVu Sans',sans-serif">*</text>
<text x="1669.2" y="1458.7" font-size="38" text-anchor="middle" font-weight="bold" transform="translate(1669.2 0) scale(0.92 1) translate(-1669.2 0)" style="font-family:'DejaVu Sans',sans-serif">*</text>
<text x="1828.4" y="1458.7" font-size="38" text-anchor="middle" font-weight="bold" transform="translate(1828.4 0) scale(0.92 1) translate(-1828.4 0)" style="font-family:'DejaVu Sans',sans-serif">*</text>
<rect x="1906.4" y="1450.2" width="33.3" height="13.6" fill="#b3b3b3"/>
<rect x="1906.4" y="1486.4" width="33.3" height="14.5" fill="#bf4e5a"/>
<text x="1961.8" y="1465.3" font-size="25">UC</text>
<text x="1961.8" y="1501.5" font-size="25">C</text>
<text x="1657.8" y="1748.2" font-size="25" text-anchor="middle">50</text>
<text x="1828.9" y="1748.2" font-size="25" text-anchor="middle">100</text>
<text x="1598.8" y="1784" font-size="25.2">Interstimulus interval (ms)</text>
<text x="1496" y="1680.7" font-size="25" transform="rotate(-90 1496 1680.7)">Paired-pulse ratio</text>
</g>
</svg>
</body></html>
